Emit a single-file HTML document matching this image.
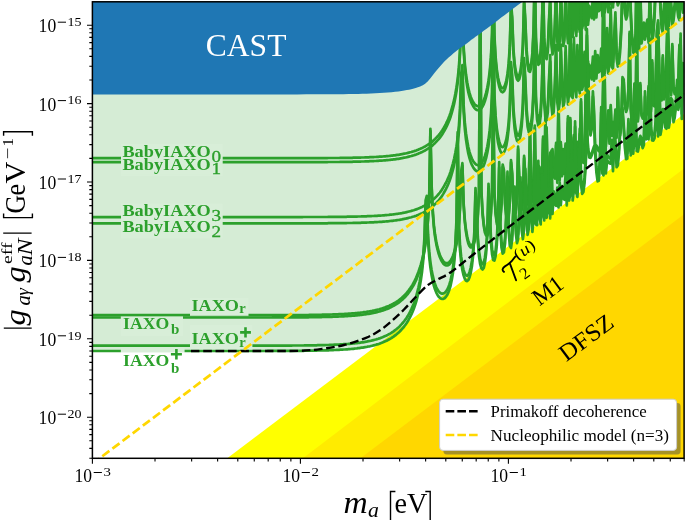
<!DOCTYPE html>
<html><head><meta charset="utf-8"><title>plot</title>
<style>html,body{margin:0;padding:0;background:#fff;}svg{display:block;will-change:transform;}text{font-family:"Liberation Serif",serif;}</style>
</head><body>
<svg width="685" height="520" viewBox="0 0 685 520">
<defs>
<clipPath id="ax"><rect x="92.4" y="1.8" width="591.7" height="456.5"/></clipPath>
</defs>
<rect x="0" y="0" width="685" height="520" fill="#ffffff"/>
<g clip-path="url(#ax)">
<polygon points="217.2,465.8 700.0,101.9 700.0,468.3" fill="#ffff00"/>
<polygon points="292.8,465.9 700.0,156.4 700.0,468.3" fill="#ffeb00"/>
<polygon points="350.4,465.8 700.0,202.3 700.0,468.3" fill="#ffd700"/>
<path d="M92.4 351.0L93.6 351.0L94.8 351.0L96.0 351.0L97.1 351.0L98.3 351.0L99.5 351.0L100.7 351.0L101.9 351.0L103.1 351.0L104.3 351.0L105.4 351.0L106.6 351.0L107.8 351.0L109.0 351.0L110.2 351.0L111.4 351.0L112.6 351.0L113.7 351.0L114.9 351.0L116.1 351.0L117.3 351.0L118.5 351.0L119.7 351.0L120.9 351.0L122.0 351.0L123.2 351.0L124.4 351.0L125.6 351.0L126.8 351.0L128.0 351.0L129.2 351.0L130.3 351.0L131.5 351.0L132.7 351.0L133.9 351.0L135.1 351.0L136.3 351.0L137.5 351.0L138.7 351.0L139.8 351.0L141.0 351.0L142.2 351.0L143.4 351.0L144.6 351.0L145.8 351.0L147.0 351.0L148.1 351.0L149.3 351.0L150.5 351.0L151.7 351.0L152.9 351.0L154.1 351.0L155.3 351.0L156.4 351.0L157.6 351.0L158.8 351.0L160.0 351.0L161.2 351.0L162.4 351.0L163.6 351.0L164.7 351.0L165.9 351.0L167.1 351.0L168.3 351.0L169.5 351.0L170.7 351.0L171.9 351.0L173.0 351.0L174.2 351.0L175.4 351.0L176.6 351.0L177.8 351.0L179.0 351.0L180.2 351.0L181.3 351.0L182.5 351.0L183.7 351.0L184.9 351.0L186.1 351.0L187.3 351.0L188.5 351.0L189.6 351.0L190.8 351.0L192.0 351.0L193.2 351.0L194.4 351.0L195.6 351.0L196.8 351.0L197.9 351.0L199.1 351.0L200.3 351.0L201.5 351.0L202.7 351.0L203.9 351.0L205.1 351.0L206.2 351.0L207.4 351.0L208.6 351.0L209.8 351.0L211.0 351.0L212.2 351.0L213.4 351.0L214.6 351.0L215.7 351.0L216.9 351.0L218.1 351.0L219.3 351.0L220.5 351.0L221.7 351.0L222.9 351.0L224.0 351.0L225.2 351.0L226.4 351.0L227.6 351.0L228.8 351.0L230.0 351.0L231.2 351.0L232.3 351.0L233.5 351.0L234.7 351.0L235.9 351.0L237.1 351.0L238.3 351.0L239.5 351.0L240.6 351.0L241.8 351.0L243.0 351.0L244.2 351.0L245.4 351.0L246.6 351.0L247.8 351.0L248.9 351.0L250.1 351.0L251.3 351.0L252.5 351.0L253.7 351.0L254.9 351.0L256.1 351.0L257.2 351.0L258.4 351.0L259.6 351.0L260.8 351.0L262.0 351.0L263.2 351.0L264.4 351.0L265.5 351.0L266.7 351.0L267.9 350.9L269.1 350.9L270.3 350.9L271.5 350.9L272.7 350.9L273.8 350.9L275.0 350.9L276.2 350.9L277.4 350.9L278.6 350.9L279.8 350.9L281.0 350.9L282.1 350.9L283.3 350.9L284.5 350.9L285.7 350.9L286.9 350.9L288.1 350.9L289.3 350.9L290.5 350.9L291.6 350.9L292.8 350.8L294.0 350.8L295.2 350.8L296.4 350.8L297.6 350.8L298.8 350.8L299.9 350.8L301.1 350.8L302.3 350.8L303.5 350.8L304.7 350.7L305.9 350.7L307.1 350.7L308.2 350.7L309.4 350.7L310.6 350.7L311.8 350.6L313.0 350.6L314.2 350.6L315.4 350.6L316.5 350.6L317.7 350.5L318.9 350.5L320.1 350.5L321.3 350.5L322.5 350.4L323.7 350.4L324.8 350.4L326.0 350.3L327.2 350.3L328.4 350.3L329.6 350.2L330.8 350.2L332.0 350.1L333.1 350.1L334.3 350.0L335.5 350.0L336.7 349.9L337.9 349.9L339.1 349.8L340.3 349.7L341.4 349.7L342.6 349.6L343.8 349.5L345.0 349.5L346.2 349.4L347.4 349.3L348.6 349.2L349.7 349.1L350.9 349.0L352.1 348.9L353.3 348.8L354.5 348.6L355.7 348.5L356.9 348.4L358.0 348.2L359.2 348.1L360.4 347.9L361.6 347.7L362.8 347.6L364.0 347.4L365.2 347.2L366.4 347.0L367.5 346.7L368.7 346.5L369.9 346.3L371.1 346.0L372.3 345.7L373.5 345.4L374.7 345.1L375.8 344.8L377.0 344.4L378.2 344.1L379.4 343.7L380.6 343.2L381.8 342.8L383.0 342.3L384.1 341.8L385.3 341.3L386.5 340.8L387.7 340.2L388.9 339.5L390.1 338.9L391.3 338.2L392.4 337.4L393.6 336.6L394.8 335.7L396.0 334.8L397.2 333.8L398.4 332.8L399.6 331.7L400.7 330.5L401.9 329.2L403.1 327.8L404.3 326.3L405.5 324.7L406.7 323.0L407.9 321.1L409.0 319.1L410.2 316.8L411.4 314.4L412.6 311.7L413.8 308.7L415.0 305.4L416.2 301.7L417.3 297.4L418.5 292.5L419.7 286.8L420.9 279.8L422.1 271.2L423.3 259.6L424.5 242.1L425.6 205.6L426.8 201.2L428.0 239.5L429.2 256.5L430.4 267.4L431.6 275.2L432.8 281.2L433.9 285.9L435.1 289.6L436.3 292.6L437.5 294.9L438.7 296.7L439.9 297.9L441.1 298.7L442.3 299.0L443.4 298.8L444.6 298.2L445.8 297.0L447.0 295.3L448.2 292.9L449.4 289.7L450.6 285.6L451.7 280.2L452.9 273.2L454.1 263.7L455.3 249.7L456.5 224.8L457.7 137.3L458.9 228.8L460.0 250.2L461.2 262.3L462.4 270.2L463.6 275.4L464.8 278.8L466.0 280.7L467.2 281.1L468.3 280.1L469.5 277.5L470.7 273.1L471.9 266.3L473.1 255.7L474.3 237.8L475.5 193.4L476.6 210.9L477.8 242.0L479.0 256.2L480.2 264.2L481.4 268.3L482.6 269.5L483.8 267.9L484.9 263.0L486.1 253.7L487.3 236.2L488.5 189.1L489.7 213.0L490.9 242.0L492.1 254.5L493.2 260.0L494.4 260.6L495.6 256.2L496.8 245.3L498.0 220.3L499.2 167.5L500.4 230.6L501.5 247.6L502.7 253.7L503.9 252.4L505.1 243.0L506.3 217.7L507.5 177.0L508.7 231.4L509.8 245.7L511.0 248.0L512.2 239.6L513.4 211.4L514.6 191.9L515.8 233.2L517.0 243.2L518.1 239.1L519.3 215.2L520.5 182.7L521.7 230.5L522.9 239.2L524.1 229.6L525.3 174.1L526.5 216.6L527.6 234.8L528.8 228.7L530.0 176.1L531.2 215.7L532.4 231.9L533.6 218.7L534.8 161.4L535.9 224.6L537.1 225.2L538.3 166.2L539.5 216.4L540.7 224.4L541.9 174.7L543.1 214.2L544.2 220.5L545.4 116.5L546.6 217.8L547.8 209.7L549.0 188.6L550.2 218.4L551.4 156.0L552.5 214.0L553.7 196.7L554.9 203.8L556.1 205.8L557.3 192.9L558.5 207.3L559.7 187.7L560.8 205.1L562.0 191.4L563.2 198.4L564.4 199.7L565.6 179.2L566.8 205.4L568.0 127.7L569.1 200.6L570.3 194.1L571.5 155.0L572.7 200.5L573.9 190.4L575.1 126.7L576.3 193.2L577.4 196.9L578.6 174.6L579.8 134.0L581.0 184.1L582.2 193.8L583.4 192.0L584.6 182.5L585.7 165.0L586.9 133.2L588.1 66.6L589.3 126.6L590.5 135.4L591.7 129.6L592.9 96.6L594.0 115.5L595.2 153.9L596.4 172.3L597.6 181.3L598.8 180.7L600.0 163.2L601.2 112.4L602.4 173.6L603.5 175.3L604.7 81.4L605.9 173.4L607.1 159.9L608.3 162.1L609.5 163.4L610.7 163.6L611.8 145.1L613.0 171.1L614.2 139.2L615.4 145.1L616.6 167.2L617.8 165.5L619.0 153.1L620.1 134.1L621.3 115.0L622.5 112.9L623.7 129.7L624.9 147.8L626.1 159.2L627.3 158.6L628.4 124.5L629.6 143.6L630.8 155.3L632.0 112.1L633.2 153.7L634.4 138.9L635.6 120.4L636.7 151.0L637.9 151.5L639.1 145.2L640.3 141.1L641.5 143.5L642.7 148.1L643.9 144.7L645.0 96.7L646.2 139.3L647.4 131.2L648.6 139.3L649.8 43.9L651.0 132.5L652.2 140.5L653.3 140.6L654.5 138.4L655.7 126.0L656.9 66.3L658.1 136.4L659.3 81.0L660.5 134.8L661.6 128.5L662.8 114.4L664.0 114.6L665.2 127.4L666.4 128.7L667.6 52.7L668.8 127.7L669.9 121.4L671.1 103.4L672.3 105.5L673.5 122.2L674.7 117.6L675.9 107.2L677.1 85.1L678.3 109.8L679.4 103.4L680.6 38.9L681.8 119.0L683.0 68.3L684.2 78.5L700 -20L90.4 -20Z" fill="#2ca02c" fill-opacity="0.2" stroke="none"/>
<path id="cB0" d="M92.4 158.2L93.6 158.2L94.8 158.2L96.0 158.2L97.1 158.2L98.3 158.2L99.5 158.2L100.7 158.2L101.9 158.2L103.1 158.2L104.3 158.2L105.4 158.2L106.6 158.2L107.8 158.2L109.0 158.2L110.2 158.2L111.4 158.2L112.6 158.2L113.7 158.2L114.9 158.2L116.1 158.2L117.3 158.2L118.5 158.2L119.7 158.2L120.9 158.2L122.0 158.2L123.2 158.2L124.4 158.2L125.6 158.2L126.8 158.2L128.0 158.2L129.2 158.2L130.3 158.2L131.5 158.2L132.7 158.2L133.9 158.2L135.1 158.2L136.3 158.2L137.5 158.2L138.7 158.2L139.8 158.2L141.0 158.2L142.2 158.2L143.4 158.2L144.6 158.2L145.8 158.2L147.0 158.2L148.1 158.2L149.3 158.2L150.5 158.2L151.7 158.2L152.9 158.2L154.1 158.2L155.3 158.2L156.4 158.2L157.6 158.2L158.8 158.2L160.0 158.2L161.2 158.2L162.4 158.2L163.6 158.2L164.7 158.2L165.9 158.2L167.1 158.2L168.3 158.2L169.5 158.2L170.7 158.2L171.9 158.2L173.0 158.2L174.2 158.2L175.4 158.2L176.6 158.2L177.8 158.2L179.0 158.2L180.2 158.2L181.3 158.2L182.5 158.2L183.7 158.2L184.9 158.2L186.1 158.2L187.3 158.2L188.5 158.2L189.6 158.2L190.8 158.2L192.0 158.2L193.2 158.2L194.4 158.2L195.6 158.2L196.8 158.2L197.9 158.2L199.1 158.2L200.3 158.2L201.5 158.2L202.7 158.2L203.9 158.2L205.1 158.2L206.2 158.2L207.4 158.2L208.6 158.2L209.8 158.2L211.0 158.2L212.2 158.2L213.4 158.2L214.6 158.2L215.7 158.2L216.9 158.2L218.1 158.2L219.3 158.2L220.5 158.2L221.7 158.2L222.9 158.2L224.0 158.2L225.2 158.2L226.4 158.2L227.6 158.2L228.8 158.2L230.0 158.2L231.2 158.2L232.3 158.2L233.5 158.2L234.7 158.2L235.9 158.2L237.1 158.2L238.3 158.2L239.5 158.2L240.6 158.2L241.8 158.2L243.0 158.2L244.2 158.2L245.4 158.2L246.6 158.2L247.8 158.2L248.9 158.2L250.1 158.2L251.3 158.2L252.5 158.2L253.7 158.2L254.9 158.2L256.1 158.2L257.2 158.2L258.4 158.2L259.6 158.2L260.8 158.2L262.0 158.2L263.2 158.2L264.4 158.2L265.5 158.2L266.7 158.2L267.9 158.2L269.1 158.2L270.3 158.2L271.5 158.2L272.7 158.2L273.8 158.2L275.0 158.2L276.2 158.2L277.4 158.2L278.6 158.2L279.8 158.2L281.0 158.2L282.1 158.2L283.3 158.2L284.5 158.2L285.7 158.2L286.9 158.2L288.1 158.2L289.3 158.2L290.5 158.2L291.6 158.2L292.8 158.2L294.0 158.2L295.2 158.2L296.4 158.2L297.6 158.2L298.8 158.2L299.9 158.2L301.1 158.2L302.3 158.2L303.5 158.1L304.7 158.1L305.9 158.1L307.1 158.1L308.2 158.1L309.4 158.1L310.6 158.1L311.8 158.1L313.0 158.1L314.2 158.1L315.4 158.1L316.5 158.1L317.7 158.1L318.9 158.1L320.1 158.1L321.3 158.1L322.5 158.1L323.7 158.1L324.8 158.1L326.0 158.1L327.2 158.1L328.4 158.0L329.6 158.0L330.8 158.0L332.0 158.0L333.1 158.0L334.3 158.0L335.5 158.0L336.7 158.0L337.9 158.0L339.1 158.0L340.3 157.9L341.4 157.9L342.6 157.9L343.8 157.9L345.0 157.9L346.2 157.9L347.4 157.8L348.6 157.8L349.7 157.8L350.9 157.8L352.1 157.8L353.3 157.7L354.5 157.7L355.7 157.7L356.9 157.7L358.0 157.6L359.2 157.6L360.4 157.6L361.6 157.5L362.8 157.5L364.0 157.5L365.2 157.4L366.4 157.4L367.5 157.3L368.7 157.3L369.9 157.2L371.1 157.2L372.3 157.1L373.5 157.1L374.7 157.0L375.8 157.0L377.0 156.9L378.2 156.8L379.4 156.7L380.6 156.7L381.8 156.6L383.0 156.5L384.1 156.4L385.3 156.3L386.5 156.2L387.7 156.1L388.9 156.0L390.1 155.8L391.3 155.7L392.4 155.6L393.6 155.4L394.8 155.3L396.0 155.1L397.2 154.9L398.4 154.8L399.6 154.6L400.7 154.4L401.9 154.2L403.1 153.9L404.3 153.7L405.5 153.5L406.7 153.2L407.9 152.9L409.0 152.6L410.2 152.3L411.4 152.0L412.6 151.6L413.8 151.3L415.0 150.9L416.2 150.5L417.3 150.0L418.5 149.6L419.7 149.1L420.9 148.5L422.1 148.0L423.3 147.4L424.5 146.8L425.6 146.1L426.8 145.4L428.0 144.6L429.2 143.8L430.4 143.0L431.6 142.1L432.8 141.1L433.9 140.0L435.1 138.9L436.3 137.7L437.5 136.4L438.7 135.1L439.9 133.6L441.1 132.0L442.3 130.2L443.4 128.4L444.6 126.3L445.8 124.1L447.0 121.7L448.2 119.0L449.4 116.0L450.6 112.7L451.7 109.0L452.9 104.7L454.1 99.9L455.3 94.1L456.5 87.3L457.7 78.6L458.9 67.2L460.0 50.0L461.2 14.7L462.4 6.3L463.6 46.0L464.8 63.3L466.0 74.3L467.2 82.2L468.3 88.2L469.5 92.9L470.7 96.7L471.9 99.7L473.1 102.0L474.3 103.8L475.5 105.1L476.6 105.9L477.8 106.2L479.0 106.1L480.2 105.4L481.4 104.3L482.6 102.5L483.8 100.1L484.9 97.0L486.1 92.9L487.3 87.6L488.5 80.7L489.7 71.3L490.9 57.4L492.1 33.1L493.2 -40.0L494.4 35.1L495.6 57.0L496.8 69.2L498.0 77.2L499.2 82.5L500.4 86.0L501.5 87.8L502.7 88.3L503.9 87.3L505.1 84.8L506.3 80.5L507.5 73.7L508.7 63.2L509.8 45.7L511.0 3.1L512.2 16.5L513.4 48.6L514.6 63.1L515.8 71.2L517.0 75.4L518.1 76.7L519.3 75.1L520.5 70.4L521.7 61.2L522.9 44.1L524.1 -0.9L525.3 18.8L526.5 48.7L527.6 61.4L528.8 67.1L530.0 67.8L531.2 63.6L532.4 52.9L533.6 28.6L534.8 -31.4L535.9 37.1L537.1 54.5L538.3 60.8L539.5 59.8L540.7 50.6L541.9 26.1L543.1 -20.3L544.2 37.9L545.4 52.7L546.6 55.2L547.8 47.3L549.0 20.0L550.2 -3.7L551.4 39.9L552.5 50.3L553.7 46.6L554.9 23.6L556.1 -13.8L557.3 37.1L558.5 46.4L559.7 37.4L560.8 -14.4L562.0 22.7L563.2 41.9L564.4 36.4L565.6 -12.7L566.8 21.8L568.0 39.1L569.1 26.8L570.3 -38.8L571.5 31.3L572.7 32.8L573.9 -21.2L575.1 22.7L576.3 31.9L577.4 -13.9L578.6 20.5L579.8 28.1L581.0 -40.0L582.2 24.4L583.4 18.0L584.6 -7.1L585.7 25.8L586.9 -29.8L588.1 20.6L589.3 5.8L590.5 9.6L591.7 14.1L592.9 -2.2L594.0 15.4L595.2 -7.9L596.4 13.3L597.6 -3.7L598.8 7.1L600.0 5.5L601.2 -10.2L602.4 12.2L603.5 -40.0L604.7 8.7L605.9 -0.5L607.1 -30.8L608.3 8.2L609.5 -4.4L610.7 -40.0L611.8 1.7L613.0 3.4L614.2 -22.4L615.4 -40.0L616.6 -6.5L617.8 1.4L619.0 -1.7L620.1 -13.0L621.3 -33.8L622.5 -40.0L623.7 -40.0L624.9 -40.0L626.1 -40.0L627.3 -40.0L628.4 -40.0L629.6 -40.0L630.8 -40.0L632.0 -24.2L633.2 -12.8L634.4 -11.2L635.6 -25.0L636.7 -40.0L637.9 -22.0L639.1 -15.9L640.3 -40.0L641.5 -21.7L642.7 -28.1L643.9 -36.2L645.0 -25.6L646.2 -33.9L647.4 -39.4L648.6 -22.6L649.8 -40.0L651.0 -39.7L652.2 -24.5L653.3 -29.9L654.5 -40.0L655.7 -40.0L656.9 -40.0L658.1 -40.0L659.3 -40.0L660.5 -40.0L661.6 -36.8L662.8 -32.6L664.0 -40.0L665.2 -40.0L666.4 -35.4L667.6 -40.0L668.8 -37.0L669.9 -40.0L671.1 -40.0L672.3 -39.6L673.5 -40.0L674.7 -40.0L675.9 -40.0L677.1 -40.0L678.3 -40.0L679.4 -40.0L680.6 -40.0L681.8 -40.0L683.0 -40.0L684.2 -40.0" fill="none" stroke="#2ca02c" stroke-width="2.7" stroke-linejoin="round" stroke-linecap="butt"/>
<path id="cB1" d="M92.4 162.2L93.6 162.2L94.8 162.2L96.0 162.2L97.1 162.2L98.3 162.2L99.5 162.2L100.7 162.2L101.9 162.2L103.1 162.2L104.3 162.2L105.4 162.2L106.6 162.2L107.8 162.2L109.0 162.2L110.2 162.2L111.4 162.2L112.6 162.2L113.7 162.2L114.9 162.2L116.1 162.2L117.3 162.2L118.5 162.2L119.7 162.2L120.9 162.2L122.0 162.2L123.2 162.2L124.4 162.2L125.6 162.2L126.8 162.2L128.0 162.2L129.2 162.2L130.3 162.2L131.5 162.2L132.7 162.2L133.9 162.2L135.1 162.2L136.3 162.2L137.5 162.2L138.7 162.2L139.8 162.2L141.0 162.2L142.2 162.2L143.4 162.2L144.6 162.2L145.8 162.2L147.0 162.2L148.1 162.2L149.3 162.2L150.5 162.2L151.7 162.2L152.9 162.2L154.1 162.2L155.3 162.2L156.4 162.2L157.6 162.2L158.8 162.2L160.0 162.2L161.2 162.2L162.4 162.2L163.6 162.2L164.7 162.2L165.9 162.2L167.1 162.2L168.3 162.2L169.5 162.2L170.7 162.2L171.9 162.2L173.0 162.2L174.2 162.2L175.4 162.2L176.6 162.2L177.8 162.2L179.0 162.2L180.2 162.2L181.3 162.2L182.5 162.2L183.7 162.2L184.9 162.2L186.1 162.2L187.3 162.2L188.5 162.2L189.6 162.2L190.8 162.2L192.0 162.2L193.2 162.2L194.4 162.2L195.6 162.2L196.8 162.2L197.9 162.2L199.1 162.2L200.3 162.2L201.5 162.2L202.7 162.2L203.9 162.2L205.1 162.2L206.2 162.2L207.4 162.2L208.6 162.2L209.8 162.2L211.0 162.2L212.2 162.2L213.4 162.2L214.6 162.2L215.7 162.2L216.9 162.2L218.1 162.2L219.3 162.2L220.5 162.2L221.7 162.2L222.9 162.2L224.0 162.2L225.2 162.2L226.4 162.2L227.6 162.2L228.8 162.2L230.0 162.2L231.2 162.2L232.3 162.2L233.5 162.2L234.7 162.2L235.9 162.2L237.1 162.2L238.3 162.2L239.5 162.2L240.6 162.2L241.8 162.2L243.0 162.2L244.2 162.2L245.4 162.2L246.6 162.2L247.8 162.2L248.9 162.2L250.1 162.2L251.3 162.2L252.5 162.2L253.7 162.2L254.9 162.2L256.1 162.2L257.2 162.2L258.4 162.2L259.6 162.2L260.8 162.2L262.0 162.2L263.2 162.2L264.4 162.2L265.5 162.2L266.7 162.2L267.9 162.2L269.1 162.2L270.3 162.2L271.5 162.2L272.7 162.2L273.8 162.2L275.0 162.2L276.2 162.2L277.4 162.2L278.6 162.2L279.8 162.2L281.0 162.2L282.1 162.2L283.3 162.2L284.5 162.2L285.7 162.2L286.9 162.2L288.1 162.2L289.3 162.2L290.5 162.2L291.6 162.2L292.8 162.2L294.0 162.2L295.2 162.2L296.4 162.2L297.6 162.2L298.8 162.2L299.9 162.2L301.1 162.2L302.3 162.2L303.5 162.1L304.7 162.1L305.9 162.1L307.1 162.1L308.2 162.1L309.4 162.1L310.6 162.1L311.8 162.1L313.0 162.1L314.2 162.1L315.4 162.1L316.5 162.1L317.7 162.1L318.9 162.1L320.1 162.1L321.3 162.1L322.5 162.1L323.7 162.1L324.8 162.1L326.0 162.1L327.2 162.1L328.4 162.0L329.6 162.0L330.8 162.0L332.0 162.0L333.1 162.0L334.3 162.0L335.5 162.0L336.7 162.0L337.9 162.0L339.1 162.0L340.3 161.9L341.4 161.9L342.6 161.9L343.8 161.9L345.0 161.9L346.2 161.9L347.4 161.8L348.6 161.8L349.7 161.8L350.9 161.8L352.1 161.8L353.3 161.7L354.5 161.7L355.7 161.7L356.9 161.7L358.0 161.6L359.2 161.6L360.4 161.6L361.6 161.5L362.8 161.5L364.0 161.5L365.2 161.4L366.4 161.4L367.5 161.3L368.7 161.3L369.9 161.2L371.1 161.2L372.3 161.1L373.5 161.1L374.7 161.0L375.8 161.0L377.0 160.9L378.2 160.8L379.4 160.7L380.6 160.7L381.8 160.6L383.0 160.5L384.1 160.4L385.3 160.3L386.5 160.2L387.7 160.1L388.9 160.0L390.1 159.8L391.3 159.7L392.4 159.6L393.6 159.4L394.8 159.3L396.0 159.1L397.2 158.9L398.4 158.8L399.6 158.6L400.7 158.4L401.9 158.2L403.1 157.9L404.3 157.7L405.5 157.5L406.7 157.2L407.9 156.9L409.0 156.6L410.2 156.3L411.4 156.0L412.6 155.6L413.8 155.3L415.0 154.9L416.2 154.5L417.3 154.0L418.5 153.6L419.7 153.1L420.9 152.5L422.1 152.0L423.3 151.4L424.5 150.8L425.6 150.1L426.8 149.4L428.0 148.6L429.2 147.8L430.4 147.0L431.6 146.1L432.8 145.1L433.9 144.0L435.1 142.9L436.3 141.7L437.5 140.4L438.7 139.1L439.9 137.6L441.1 136.0L442.3 134.2L443.4 132.4L444.6 130.3L445.8 128.1L447.0 125.7L448.2 123.0L449.4 120.0L450.6 116.7L451.7 113.0L452.9 108.7L454.1 103.9L455.3 98.1L456.5 91.3L457.7 82.6L458.9 71.2L460.0 54.0L461.2 18.7L462.4 10.3L463.6 50.0L464.8 67.3L466.0 78.3L467.2 86.2L468.3 92.2L469.5 96.9L470.7 100.7L471.9 103.7L473.1 106.0L474.3 107.8L475.5 109.1L476.6 109.9L477.8 110.2L479.0 110.1L480.2 109.4L481.4 108.3L482.6 106.5L483.8 104.1L484.9 101.0L486.1 96.9L487.3 91.6L488.5 84.7L489.7 75.3L490.9 61.4L492.1 37.1L493.2 -40.0L494.4 39.1L495.6 61.0L496.8 73.2L498.0 81.2L499.2 86.5L500.4 90.0L501.5 91.8L502.7 92.3L503.9 91.3L505.1 88.8L506.3 84.5L507.5 77.7L508.7 67.2L509.8 49.7L511.0 7.1L512.2 20.5L513.4 52.6L514.6 67.1L515.8 75.2L517.0 79.4L518.1 80.7L519.3 79.1L520.5 74.4L521.7 65.2L522.9 48.1L524.1 3.1L525.3 22.8L526.5 52.7L527.6 65.4L528.8 71.1L530.0 71.8L531.2 67.6L532.4 56.9L533.6 32.6L534.8 -27.4L535.9 41.1L537.1 58.5L538.3 64.8L539.5 63.8L540.7 54.6L541.9 30.1L543.1 -16.3L544.2 41.9L545.4 56.7L546.6 59.2L547.8 51.3L549.0 24.0L550.2 0.3L551.4 43.9L552.5 54.3L553.7 50.6L554.9 27.6L556.1 -9.8L557.3 41.1L558.5 50.4L559.7 41.4L560.8 -10.4L562.0 26.7L563.2 45.9L564.4 40.4L565.6 -8.7L566.8 25.8L568.0 43.1L569.1 30.8L570.3 -34.8L571.5 35.3L572.7 36.8L573.9 -17.2L575.1 26.7L576.3 35.9L577.4 -9.9L578.6 24.5L579.8 32.1L581.0 -40.0L582.2 28.4L583.4 22.0L584.6 -3.1L585.7 29.8L586.9 -25.8L588.1 24.6L589.3 9.8L590.5 13.6L591.7 18.1L592.9 1.8L594.0 19.4L595.2 -3.9L596.4 17.3L597.6 0.3L598.8 11.1L600.0 9.5L601.2 -6.2L602.4 16.2L603.5 -40.0L604.7 12.7L605.9 3.5L607.1 -26.8L608.3 12.2L609.5 -0.4L610.7 -40.0L611.8 5.7L613.0 7.4L614.2 -18.4L615.4 -40.0L616.6 -2.5L617.8 5.4L619.0 2.3L620.1 -9.0L621.3 -29.8L622.5 -40.0L623.7 -40.0L624.9 -40.0L626.1 -40.0L627.3 -40.0L628.4 -40.0L629.6 -40.0L630.8 -40.0L632.0 -20.2L633.2 -8.8L634.4 -7.2L635.6 -21.0L636.7 -40.0L637.9 -18.0L639.1 -11.9L640.3 -40.0L641.5 -17.7L642.7 -24.1L643.9 -32.2L645.0 -21.6L646.2 -29.9L647.4 -35.4L648.6 -18.6L649.8 -40.0L651.0 -35.7L652.2 -20.5L653.3 -25.9L654.5 -40.0L655.7 -40.0L656.9 -40.0L658.1 -40.0L659.3 -40.0L660.5 -40.0L661.6 -32.8L662.8 -28.6L664.0 -40.0L665.2 -40.0L666.4 -31.4L667.6 -40.0L668.8 -33.0L669.9 -40.0L671.1 -40.0L672.3 -35.6L673.5 -40.0L674.7 -40.0L675.9 -40.0L677.1 -40.0L678.3 -40.0L679.4 -40.0L680.6 -40.0L681.8 -40.0L683.0 -40.0L684.2 -40.0" fill="none" stroke="#2ca02c" stroke-width="2.7" stroke-linejoin="round" stroke-linecap="butt"/>
<path id="cB3" d="M92.4 217.1L93.6 217.1L94.8 217.1L96.0 217.1L97.1 217.1L98.3 217.1L99.5 217.1L100.7 217.1L101.9 217.1L103.1 217.1L104.3 217.1L105.4 217.1L106.6 217.1L107.8 217.1L109.0 217.1L110.2 217.1L111.4 217.1L112.6 217.1L113.7 217.1L114.9 217.1L116.1 217.1L117.3 217.1L118.5 217.1L119.7 217.1L120.9 217.1L122.0 217.1L123.2 217.1L124.4 217.1L125.6 217.1L126.8 217.1L128.0 217.1L129.2 217.1L130.3 217.1L131.5 217.1L132.7 217.1L133.9 217.1L135.1 217.1L136.3 217.1L137.5 217.1L138.7 217.1L139.8 217.1L141.0 217.1L142.2 217.1L143.4 217.1L144.6 217.1L145.8 217.1L147.0 217.1L148.1 217.1L149.3 217.1L150.5 217.1L151.7 217.1L152.9 217.1L154.1 217.1L155.3 217.1L156.4 217.1L157.6 217.1L158.8 217.1L160.0 217.1L161.2 217.1L162.4 217.1L163.6 217.1L164.7 217.1L165.9 217.1L167.1 217.1L168.3 217.1L169.5 217.1L170.7 217.1L171.9 217.1L173.0 217.1L174.2 217.1L175.4 217.1L176.6 217.1L177.8 217.1L179.0 217.1L180.2 217.1L181.3 217.1L182.5 217.1L183.7 217.1L184.9 217.1L186.1 217.1L187.3 217.1L188.5 217.1L189.6 217.1L190.8 217.1L192.0 217.1L193.2 217.1L194.4 217.1L195.6 217.1L196.8 217.1L197.9 217.1L199.1 217.1L200.3 217.1L201.5 217.1L202.7 217.1L203.9 217.1L205.1 217.1L206.2 217.1L207.4 217.1L208.6 217.1L209.8 217.1L211.0 217.1L212.2 217.1L213.4 217.1L214.6 217.1L215.7 217.1L216.9 217.1L218.1 217.1L219.3 217.1L220.5 217.1L221.7 217.1L222.9 217.1L224.0 217.1L225.2 217.1L226.4 217.1L227.6 217.1L228.8 217.1L230.0 217.1L231.2 217.1L232.3 217.1L233.5 217.1L234.7 217.1L235.9 217.1L237.1 217.1L238.3 217.1L239.5 217.1L240.6 217.1L241.8 217.1L243.0 217.1L244.2 217.1L245.4 217.1L246.6 217.1L247.8 217.1L248.9 217.1L250.1 217.1L251.3 217.1L252.5 217.1L253.7 217.1L254.9 217.1L256.1 217.1L257.2 217.1L258.4 217.1L259.6 217.1L260.8 217.1L262.0 217.1L263.2 217.1L264.4 217.1L265.5 217.1L266.7 217.1L267.9 217.1L269.1 217.1L270.3 217.1L271.5 217.1L272.7 217.1L273.8 217.1L275.0 217.1L276.2 217.1L277.4 217.1L278.6 217.1L279.8 217.1L281.0 217.1L282.1 217.1L283.3 217.1L284.5 217.1L285.7 217.1L286.9 217.1L288.1 217.1L289.3 217.1L290.5 217.1L291.6 217.1L292.8 217.1L294.0 217.1L295.2 217.1L296.4 217.1L297.6 217.1L298.8 217.1L299.9 217.1L301.1 217.1L302.3 217.1L303.5 217.0L304.7 217.0L305.9 217.0L307.1 217.0L308.2 217.0L309.4 217.0L310.6 217.0L311.8 217.0L313.0 217.0L314.2 217.0L315.4 217.0L316.5 217.0L317.7 217.0L318.9 217.0L320.1 217.0L321.3 217.0L322.5 217.0L323.7 217.0L324.8 217.0L326.0 217.0L327.2 217.0L328.4 216.9L329.6 216.9L330.8 216.9L332.0 216.9L333.1 216.9L334.3 216.9L335.5 216.9L336.7 216.9L337.9 216.9L339.1 216.9L340.3 216.8L341.4 216.8L342.6 216.8L343.8 216.8L345.0 216.8L346.2 216.8L347.4 216.7L348.6 216.7L349.7 216.7L350.9 216.7L352.1 216.7L353.3 216.6L354.5 216.6L355.7 216.6L356.9 216.6L358.0 216.5L359.2 216.5L360.4 216.5L361.6 216.4L362.8 216.4L364.0 216.4L365.2 216.3L366.4 216.3L367.5 216.2L368.7 216.2L369.9 216.1L371.1 216.1L372.3 216.0L373.5 216.0L374.7 215.9L375.8 215.9L377.0 215.8L378.2 215.7L379.4 215.6L380.6 215.6L381.8 215.5L383.0 215.4L384.1 215.3L385.3 215.2L386.5 215.1L387.7 215.0L388.9 214.9L390.1 214.7L391.3 214.6L392.4 214.5L393.6 214.3L394.8 214.2L396.0 214.0L397.2 213.8L398.4 213.7L399.6 213.5L400.7 213.3L401.9 213.1L403.1 212.8L404.3 212.6L405.5 212.4L406.7 212.1L407.9 211.8L409.0 211.5L410.2 211.2L411.4 210.9L412.6 210.5L413.8 210.2L415.0 209.8L416.2 209.4L417.3 208.9L418.5 208.5L419.7 208.0L420.9 207.4L422.1 206.9L423.3 206.3L424.5 205.7L425.6 205.0L426.8 204.3L428.0 203.5L429.2 202.7L430.4 201.9L431.6 201.0L432.8 200.0L433.9 198.9L435.1 197.8L436.3 196.6L437.5 195.3L438.7 194.0L439.9 192.5L441.1 190.9L442.3 189.1L443.4 187.3L444.6 185.2L445.8 183.0L447.0 180.6L448.2 177.9L449.4 174.9L450.6 171.6L451.7 167.9L452.9 163.6L454.1 158.8L455.3 153.0L456.5 146.2L457.7 137.5L458.9 126.1L460.0 108.9L461.2 73.6L462.4 65.2L463.6 104.9L464.8 122.2L466.0 133.2L467.2 141.1L468.3 147.1L469.5 151.8L470.7 155.6L471.9 158.6L473.1 160.9L474.3 162.7L475.5 164.0L476.6 164.8L477.8 165.1L479.0 165.0L480.2 164.3L481.4 163.2L482.6 161.4L483.8 159.0L484.9 155.9L486.1 151.8L487.3 146.5L488.5 139.6L489.7 130.2L490.9 116.3L492.1 92.0L493.2 -13.9L494.4 94.0L495.6 115.9L496.8 128.1L498.0 136.1L499.2 141.4L500.4 144.9L501.5 146.7L502.7 147.2L503.9 146.2L505.1 143.7L506.3 139.4L507.5 132.6L508.7 122.1L509.8 104.6L511.0 62.0L512.2 75.4L513.4 107.5L514.6 122.0L515.8 130.1L517.0 134.3L518.1 135.6L519.3 134.0L520.5 129.3L521.7 120.1L522.9 103.0L524.1 58.0L525.3 77.7L526.5 107.6L527.6 120.3L528.8 126.0L530.0 126.7L531.2 122.5L532.4 111.8L533.6 87.5L534.8 27.5L535.9 96.0L537.1 113.4L538.3 119.7L539.5 118.7L540.7 109.5L541.9 85.0L543.1 38.6L544.2 96.8L545.4 111.6L546.6 114.1L547.8 106.2L549.0 78.9L550.2 55.2L551.4 98.8L552.5 109.2L553.7 105.5L554.9 82.5L556.1 45.1L557.3 96.0L558.5 105.3L559.7 96.3L560.8 44.5L562.0 81.6L563.2 100.8L564.4 95.3L565.6 46.2L566.8 80.7L568.0 98.0L569.1 85.7L570.3 20.1L571.5 90.2L572.7 91.7L573.9 37.7L575.1 81.6L576.3 90.8L577.4 45.0L578.6 79.4L579.8 87.0L581.0 1.4L582.2 83.3L583.4 76.9L584.6 51.8L585.7 84.7L586.9 29.1L588.1 79.5L589.3 64.7L590.5 68.5L591.7 73.0L592.9 56.7L594.0 74.3L595.2 51.0L596.4 72.2L597.6 55.2L598.8 66.0L600.0 64.4L601.2 48.7L602.4 71.1L603.5 -31.7L604.7 67.6L605.9 58.4L607.1 28.1L608.3 67.1L609.5 54.5L610.7 7.5L611.8 60.6L613.0 62.3L614.2 36.5L615.4 12.3L616.6 52.4L617.8 60.3L619.0 57.2L620.1 45.9L621.3 25.1L622.5 -20.8L623.7 -18.6L624.9 7.3L626.1 13.2L627.3 9.3L628.4 -8.8L629.6 -40.0L630.8 11.1L632.0 34.7L633.2 46.1L634.4 47.7L635.6 33.9L636.7 -40.0L637.9 36.9L639.1 43.0L640.3 -14.5L641.5 37.2L642.7 30.8L643.9 22.7L645.0 33.3L646.2 25.0L647.4 19.5L648.6 36.3L649.8 -9.6L651.0 19.2L652.2 34.4L653.3 29.0L654.5 11.6L655.7 -18.2L656.9 -40.0L658.1 -40.0L659.3 -26.4L660.5 4.7L661.6 22.1L662.8 26.3L664.0 4.9L665.2 -1.2L666.4 23.5L667.6 -40.0L668.8 21.9L669.9 -8.3L671.1 2.0L672.3 19.3L673.5 14.4L674.7 3.3L675.9 -3.4L677.1 1.1L678.3 10.7L679.4 13.8L680.6 -10.0L681.8 -4.9L683.0 6.3L684.2 -4.0" fill="none" stroke="#2ca02c" stroke-width="2.7" stroke-linejoin="round" stroke-linecap="butt"/>
<path id="cB2" d="M92.4 223.4L93.6 223.4L94.8 223.4L96.0 223.4L97.1 223.4L98.3 223.4L99.5 223.4L100.7 223.4L101.9 223.4L103.1 223.4L104.3 223.4L105.4 223.4L106.6 223.4L107.8 223.4L109.0 223.4L110.2 223.4L111.4 223.4L112.6 223.4L113.7 223.4L114.9 223.4L116.1 223.4L117.3 223.4L118.5 223.4L119.7 223.4L120.9 223.4L122.0 223.4L123.2 223.4L124.4 223.4L125.6 223.4L126.8 223.4L128.0 223.4L129.2 223.4L130.3 223.4L131.5 223.4L132.7 223.4L133.9 223.4L135.1 223.4L136.3 223.4L137.5 223.4L138.7 223.4L139.8 223.4L141.0 223.4L142.2 223.4L143.4 223.4L144.6 223.4L145.8 223.4L147.0 223.4L148.1 223.4L149.3 223.4L150.5 223.4L151.7 223.4L152.9 223.4L154.1 223.4L155.3 223.4L156.4 223.4L157.6 223.4L158.8 223.4L160.0 223.4L161.2 223.4L162.4 223.4L163.6 223.4L164.7 223.4L165.9 223.4L167.1 223.4L168.3 223.4L169.5 223.4L170.7 223.4L171.9 223.4L173.0 223.4L174.2 223.4L175.4 223.4L176.6 223.4L177.8 223.4L179.0 223.4L180.2 223.4L181.3 223.4L182.5 223.4L183.7 223.4L184.9 223.4L186.1 223.4L187.3 223.4L188.5 223.4L189.6 223.4L190.8 223.4L192.0 223.4L193.2 223.4L194.4 223.4L195.6 223.4L196.8 223.4L197.9 223.4L199.1 223.4L200.3 223.4L201.5 223.4L202.7 223.4L203.9 223.4L205.1 223.4L206.2 223.4L207.4 223.4L208.6 223.4L209.8 223.4L211.0 223.4L212.2 223.4L213.4 223.4L214.6 223.4L215.7 223.4L216.9 223.4L218.1 223.4L219.3 223.4L220.5 223.4L221.7 223.4L222.9 223.4L224.0 223.4L225.2 223.4L226.4 223.4L227.6 223.4L228.8 223.4L230.0 223.4L231.2 223.4L232.3 223.4L233.5 223.4L234.7 223.4L235.9 223.4L237.1 223.4L238.3 223.4L239.5 223.4L240.6 223.4L241.8 223.4L243.0 223.4L244.2 223.4L245.4 223.4L246.6 223.4L247.8 223.4L248.9 223.4L250.1 223.4L251.3 223.4L252.5 223.4L253.7 223.4L254.9 223.4L256.1 223.4L257.2 223.4L258.4 223.4L259.6 223.4L260.8 223.4L262.0 223.4L263.2 223.4L264.4 223.4L265.5 223.4L266.7 223.4L267.9 223.4L269.1 223.4L270.3 223.4L271.5 223.4L272.7 223.4L273.8 223.4L275.0 223.4L276.2 223.4L277.4 223.4L278.6 223.4L279.8 223.4L281.0 223.4L282.1 223.4L283.3 223.4L284.5 223.4L285.7 223.4L286.9 223.4L288.1 223.4L289.3 223.4L290.5 223.4L291.6 223.4L292.8 223.4L294.0 223.4L295.2 223.4L296.4 223.4L297.6 223.4L298.8 223.4L299.9 223.4L301.1 223.4L302.3 223.4L303.5 223.3L304.7 223.3L305.9 223.3L307.1 223.3L308.2 223.3L309.4 223.3L310.6 223.3L311.8 223.3L313.0 223.3L314.2 223.3L315.4 223.3L316.5 223.3L317.7 223.3L318.9 223.3L320.1 223.3L321.3 223.3L322.5 223.3L323.7 223.3L324.8 223.3L326.0 223.3L327.2 223.3L328.4 223.2L329.6 223.2L330.8 223.2L332.0 223.2L333.1 223.2L334.3 223.2L335.5 223.2L336.7 223.2L337.9 223.2L339.1 223.2L340.3 223.1L341.4 223.1L342.6 223.1L343.8 223.1L345.0 223.1L346.2 223.1L347.4 223.0L348.6 223.0L349.7 223.0L350.9 223.0L352.1 223.0L353.3 222.9L354.5 222.9L355.7 222.9L356.9 222.9L358.0 222.8L359.2 222.8L360.4 222.8L361.6 222.7L362.8 222.7L364.0 222.7L365.2 222.6L366.4 222.6L367.5 222.5L368.7 222.5L369.9 222.4L371.1 222.4L372.3 222.3L373.5 222.3L374.7 222.2L375.8 222.2L377.0 222.1L378.2 222.0L379.4 221.9L380.6 221.9L381.8 221.8L383.0 221.7L384.1 221.6L385.3 221.5L386.5 221.4L387.7 221.3L388.9 221.2L390.1 221.0L391.3 220.9L392.4 220.8L393.6 220.6L394.8 220.5L396.0 220.3L397.2 220.1L398.4 220.0L399.6 219.8L400.7 219.6L401.9 219.4L403.1 219.1L404.3 218.9L405.5 218.7L406.7 218.4L407.9 218.1L409.0 217.8L410.2 217.5L411.4 217.2L412.6 216.8L413.8 216.5L415.0 216.1L416.2 215.7L417.3 215.2L418.5 214.8L419.7 214.3L420.9 213.7L422.1 213.2L423.3 212.6L424.5 212.0L425.6 211.3L426.8 210.6L428.0 209.8L429.2 209.0L430.4 208.2L431.6 207.3L432.8 206.3L433.9 205.2L435.1 204.1L436.3 202.9L437.5 201.6L438.7 200.3L439.9 198.8L441.1 197.2L442.3 195.4L443.4 193.6L444.6 191.5L445.8 189.3L447.0 186.9L448.2 184.2L449.4 181.2L450.6 177.9L451.7 174.2L452.9 169.9L454.1 165.1L455.3 159.3L456.5 152.5L457.7 143.8L458.9 132.4L460.0 115.2L461.2 79.9L462.4 71.5L463.6 111.2L464.8 128.5L466.0 139.5L467.2 147.4L468.3 153.4L469.5 158.1L470.7 161.9L471.9 164.9L473.1 167.2L474.3 169.0L475.5 170.3L476.6 171.1L477.8 171.4L479.0 171.3L480.2 170.6L481.4 169.5L482.6 167.7L483.8 165.3L484.9 162.2L486.1 158.1L487.3 152.8L488.5 145.9L489.7 136.5L490.9 122.6L492.1 98.3L493.2 -7.6L494.4 100.3L495.6 122.2L496.8 134.4L498.0 142.4L499.2 147.7L500.4 151.2L501.5 153.0L502.7 153.5L503.9 152.5L505.1 150.0L506.3 145.7L507.5 138.9L508.7 128.4L509.8 110.9L511.0 68.3L512.2 81.7L513.4 113.8L514.6 128.3L515.8 136.4L517.0 140.6L518.1 141.9L519.3 140.3L520.5 135.6L521.7 126.4L522.9 109.3L524.1 64.3L525.3 84.0L526.5 113.9L527.6 126.6L528.8 132.3L530.0 133.0L531.2 128.8L532.4 118.1L533.6 93.8L534.8 33.8L535.9 102.3L537.1 119.7L538.3 126.0L539.5 125.0L540.7 115.8L541.9 91.3L543.1 44.9L544.2 103.1L545.4 117.9L546.6 120.4L547.8 112.5L549.0 85.2L550.2 61.5L551.4 105.1L552.5 115.5L553.7 111.8L554.9 88.8L556.1 51.4L557.3 102.3L558.5 111.6L559.7 102.6L560.8 50.8L562.0 87.9L563.2 107.1L564.4 101.6L565.6 52.5L566.8 87.0L568.0 104.3L569.1 92.0L570.3 26.4L571.5 96.5L572.7 98.0L573.9 44.0L575.1 87.9L576.3 97.1L577.4 51.3L578.6 85.7L579.8 93.3L581.0 7.7L582.2 89.6L583.4 83.2L584.6 58.1L585.7 91.0L586.9 35.4L588.1 85.8L589.3 71.0L590.5 74.8L591.7 79.3L592.9 63.0L594.0 80.6L595.2 57.3L596.4 78.5L597.6 61.5L598.8 72.3L600.0 70.7L601.2 55.0L602.4 77.4L603.5 -25.4L604.7 73.9L605.9 64.7L607.1 34.4L608.3 73.4L609.5 60.8L610.7 13.8L611.8 66.9L613.0 68.6L614.2 42.8L615.4 18.6L616.6 58.7L617.8 66.6L619.0 63.5L620.1 52.2L621.3 31.4L622.5 -14.5L623.7 -12.3L624.9 13.6L626.1 19.5L627.3 15.6L628.4 -2.5L629.6 -40.0L630.8 17.4L632.0 41.0L633.2 52.4L634.4 54.0L635.6 40.2L636.7 -40.0L637.9 43.2L639.1 49.3L640.3 -8.2L641.5 43.5L642.7 37.1L643.9 29.0L645.0 39.6L646.2 31.3L647.4 25.8L648.6 42.6L649.8 -3.3L651.0 25.5L652.2 40.7L653.3 35.3L654.5 17.9L655.7 -11.9L656.9 -40.0L658.1 -40.0L659.3 -20.1L660.5 11.0L661.6 28.4L662.8 32.6L664.0 11.2L665.2 5.1L666.4 29.8L667.6 -40.0L668.8 28.2L669.9 -2.0L671.1 8.3L672.3 25.6L673.5 20.7L674.7 9.6L675.9 2.9L677.1 7.4L678.3 17.0L679.4 20.1L680.6 -3.7L681.8 1.4L683.0 12.6L684.2 2.3" fill="none" stroke="#2ca02c" stroke-width="2.7" stroke-linejoin="round" stroke-linecap="butt"/>
<path id="cIr" d="M92.4 315.2L93.6 315.2L94.8 315.2L96.0 315.2L97.1 315.2L98.3 315.2L99.5 315.2L100.7 315.2L101.9 315.2L103.1 315.2L104.3 315.2L105.4 315.2L106.6 315.2L107.8 315.2L109.0 315.2L110.2 315.2L111.4 315.2L112.6 315.2L113.7 315.2L114.9 315.2L116.1 315.2L117.3 315.2L118.5 315.2L119.7 315.2L120.9 315.2L122.0 315.2L123.2 315.2L124.4 315.2L125.6 315.2L126.8 315.2L128.0 315.2L129.2 315.2L130.3 315.2L131.5 315.2L132.7 315.2L133.9 315.2L135.1 315.2L136.3 315.2L137.5 315.2L138.7 315.2L139.8 315.2L141.0 315.2L142.2 315.2L143.4 315.2L144.6 315.2L145.8 315.2L147.0 315.2L148.1 315.2L149.3 315.2L150.5 315.2L151.7 315.2L152.9 315.2L154.1 315.2L155.3 315.2L156.4 315.2L157.6 315.2L158.8 315.2L160.0 315.2L161.2 315.2L162.4 315.2L163.6 315.2L164.7 315.2L165.9 315.2L167.1 315.2L168.3 315.2L169.5 315.2L170.7 315.2L171.9 315.2L173.0 315.2L174.2 315.2L175.4 315.2L176.6 315.2L177.8 315.2L179.0 315.2L180.2 315.2L181.3 315.2L182.5 315.2L183.7 315.2L184.9 315.2L186.1 315.2L187.3 315.2L188.5 315.2L189.6 315.2L190.8 315.2L192.0 315.2L193.2 315.2L194.4 315.2L195.6 315.2L196.8 315.2L197.9 315.2L199.1 315.2L200.3 315.2L201.5 315.2L202.7 315.2L203.9 315.2L205.1 315.2L206.2 315.2L207.4 315.2L208.6 315.2L209.8 315.2L211.0 315.2L212.2 315.2L213.4 315.2L214.6 315.2L215.7 315.2L216.9 315.2L218.1 315.2L219.3 315.2L220.5 315.2L221.7 315.2L222.9 315.2L224.0 315.2L225.2 315.2L226.4 315.2L227.6 315.2L228.8 315.2L230.0 315.2L231.2 315.2L232.3 315.2L233.5 315.2L234.7 315.2L235.9 315.2L237.1 315.2L238.3 315.2L239.5 315.2L240.6 315.2L241.8 315.2L243.0 315.2L244.2 315.2L245.4 315.2L246.6 315.2L247.8 315.2L248.9 315.2L250.1 315.2L251.3 315.2L252.5 315.2L253.7 315.2L254.9 315.2L256.1 315.2L257.2 315.2L258.4 315.2L259.6 315.2L260.8 315.2L262.0 315.2L263.2 315.2L264.4 315.2L265.5 315.2L266.7 315.2L267.9 315.2L269.1 315.2L270.3 315.2L271.5 315.2L272.7 315.1L273.8 315.1L275.0 315.1L276.2 315.1L277.4 315.1L278.6 315.1L279.8 315.1L281.0 315.1L282.1 315.1L283.3 315.1L284.5 315.1L285.7 315.1L286.9 315.1L288.1 315.1L289.3 315.1L290.5 315.1L291.6 315.1L292.8 315.1L294.0 315.1L295.2 315.1L296.4 315.1L297.6 315.0L298.8 315.0L299.9 315.0L301.1 315.0L302.3 315.0L303.5 315.0L304.7 315.0L305.9 315.0L307.1 315.0L308.2 315.0L309.4 314.9L310.6 314.9L311.8 314.9L313.0 314.9L314.2 314.9L315.4 314.9L316.5 314.8L317.7 314.8L318.9 314.8L320.1 314.8L321.3 314.8L322.5 314.7L323.7 314.7L324.8 314.7L326.0 314.7L327.2 314.6L328.4 314.6L329.6 314.6L330.8 314.5L332.0 314.5L333.1 314.4L334.3 314.4L335.5 314.4L336.7 314.3L337.9 314.3L339.1 314.2L340.3 314.2L341.4 314.1L342.6 314.1L343.8 314.0L345.0 313.9L346.2 313.9L347.4 313.8L348.6 313.7L349.7 313.6L350.9 313.5L352.1 313.4L353.3 313.4L354.5 313.3L355.7 313.1L356.9 313.0L358.0 312.9L359.2 312.8L360.4 312.7L361.6 312.5L362.8 312.4L364.0 312.2L365.2 312.0L366.4 311.9L367.5 311.7L368.7 311.5L369.9 311.3L371.1 311.1L372.3 310.9L373.5 310.6L374.7 310.4L375.8 310.1L377.0 309.8L378.2 309.5L379.4 309.2L380.6 308.8L381.8 308.5L383.0 308.1L384.1 307.7L385.3 307.3L386.5 306.8L387.7 306.4L388.9 305.9L390.1 305.3L391.3 304.7L392.4 304.1L393.6 303.5L394.8 302.8L396.0 302.1L397.2 301.3L398.4 300.5L399.6 299.6L400.7 298.7L401.9 297.7L403.1 296.6L404.3 295.4L405.5 294.2L406.7 292.9L407.9 291.5L409.0 289.9L410.2 288.3L411.4 286.5L412.6 284.6L413.8 282.5L415.0 280.1L416.2 277.6L417.3 274.8L418.5 271.7L419.7 268.3L420.9 264.3L422.1 259.9L423.3 254.7L424.5 248.6L425.6 241.1L426.8 231.5L428.0 218.3L429.2 196.8L430.4 128.8L431.6 185.0L432.8 211.1L433.9 225.2L435.1 234.8L436.3 241.8L437.5 247.2L438.7 251.5L439.9 255.0L441.1 257.7L442.3 259.8L443.4 261.4L444.6 262.5L445.8 263.1L447.0 263.2L448.2 262.9L449.4 262.0L450.6 260.6L451.7 258.7L452.9 256.0L454.1 252.5L455.3 247.9L456.5 242.1L457.7 234.3L458.9 223.4L460.0 206.7L461.2 171.6L462.4 163.2L463.6 202.8L464.8 219.6L466.0 229.8L467.2 236.6L468.3 241.1L469.5 243.9L470.7 245.2L471.9 245.1L473.1 243.5L474.3 240.3L475.5 235.1L476.6 227.1L477.8 214.4L479.0 191.4L480.2 -40.0L481.4 190.5L482.6 212.5L483.8 223.9L484.9 230.3L486.1 233.3L487.3 233.4L488.5 230.7L489.7 224.4L490.9 212.7L492.1 189.6L493.2 84.2L494.4 191.5L495.6 211.9L496.8 221.4L498.0 225.0L499.2 223.8L500.4 217.3L501.5 202.7L502.7 164.5L503.9 170.0L505.1 203.0L506.3 215.0L507.5 218.2L508.7 214.3L509.8 200.7L511.0 160.0L512.2 173.1L513.4 202.8L514.6 211.9L515.8 210.5L517.0 197.0L518.1 146.7L519.3 179.2L520.5 203.0L521.7 207.5L522.9 197.7L524.1 155.9L525.3 175.0L526.5 200.2L527.6 202.1L528.8 183.6L530.0 128.4L531.2 191.3L532.4 199.4L533.6 183.5L534.8 125.6L535.9 190.0L537.1 194.8L538.3 165.7L539.5 167.2L540.7 192.7L541.9 180.4L543.1 136.5L544.2 188.3L545.4 181.3L546.6 127.3L547.8 186.1L549.0 174.5L550.2 152.7L551.4 185.2L552.5 149.2L553.7 174.5L554.9 176.3L556.1 142.8L557.3 180.5L558.5 97.3L559.7 177.9L560.8 142.1L562.0 173.9L563.2 149.1L564.4 171.6L565.6 143.6L566.8 171.7L568.0 116.3L569.1 171.8L570.3 118.0L571.5 165.8L572.7 158.1L573.9 135.1L575.1 167.3L576.3 142.3L577.4 141.9L578.6 164.5L579.8 149.2L581.0 99.4L582.2 155.2L583.4 160.7L584.6 147.4L585.7 93.0L586.9 126.5L588.1 148.6L589.3 155.2L590.5 155.6L591.7 153.1L592.9 149.6L594.0 146.5L595.2 145.1L596.4 145.5L597.6 147.3L598.8 148.8L600.0 148.2L601.2 142.1L602.4 122.3L603.5 66.3L604.7 133.7L605.9 144.0L607.1 124.6L608.3 110.4L609.5 141.3L610.7 105.1L611.8 133.7L613.0 122.0L614.2 130.7L615.4 109.5L616.6 135.5L617.8 87.5L619.0 121.6L620.1 133.3L621.3 120.5L622.5 77.1L623.7 79.3L624.9 104.4L626.1 109.7L627.3 106.0L628.4 88.9L629.6 31.8L630.8 107.5L632.0 123.8L633.2 112.5L634.4 83.6L635.6 121.6L636.7 16.6L637.9 119.1L639.1 99.7L640.3 83.0L641.5 113.4L642.7 116.3L643.9 113.7L645.0 112.4L646.2 113.4L647.4 110.7L648.6 86.0L649.8 87.3L651.0 109.1L652.2 60.4L653.3 103.2L654.5 104.0L655.7 79.0L656.9 30.5L658.1 20.4L659.3 71.0L660.5 97.9L661.6 98.1L662.8 55.3L664.0 97.1L665.2 92.8L666.4 60.1L667.6 16.9L668.8 51.5L669.9 86.5L671.1 93.0L672.3 44.0L673.5 86.7L674.7 91.8L675.9 88.5L677.1 90.0L678.3 83.3L679.4 44.9L680.6 83.1L681.8 85.5L683.0 81.4L684.2 84.7" fill="none" stroke="#2ca02c" stroke-width="2.7" stroke-linejoin="round" stroke-linecap="butt"/>
<path id="cIb" d="M92.4 317.5L93.6 317.5L94.8 317.5L96.0 317.5L97.1 317.5L98.3 317.5L99.5 317.5L100.7 317.5L101.9 317.5L103.1 317.5L104.3 317.5L105.4 317.5L106.6 317.5L107.8 317.5L109.0 317.5L110.2 317.5L111.4 317.5L112.6 317.5L113.7 317.5L114.9 317.5L116.1 317.5L117.3 317.5L118.5 317.5L119.7 317.5L120.9 317.5L122.0 317.5L123.2 317.5L124.4 317.5L125.6 317.5L126.8 317.5L128.0 317.5L129.2 317.5L130.3 317.5L131.5 317.5L132.7 317.5L133.9 317.5L135.1 317.5L136.3 317.5L137.5 317.5L138.7 317.5L139.8 317.5L141.0 317.5L142.2 317.5L143.4 317.5L144.6 317.5L145.8 317.5L147.0 317.5L148.1 317.5L149.3 317.5L150.5 317.5L151.7 317.5L152.9 317.5L154.1 317.5L155.3 317.5L156.4 317.5L157.6 317.5L158.8 317.5L160.0 317.5L161.2 317.5L162.4 317.5L163.6 317.5L164.7 317.5L165.9 317.5L167.1 317.5L168.3 317.5L169.5 317.5L170.7 317.5L171.9 317.5L173.0 317.5L174.2 317.5L175.4 317.5L176.6 317.5L177.8 317.5L179.0 317.5L180.2 317.5L181.3 317.5L182.5 317.5L183.7 317.5L184.9 317.5L186.1 317.5L187.3 317.5L188.5 317.5L189.6 317.5L190.8 317.5L192.0 317.5L193.2 317.5L194.4 317.5L195.6 317.5L196.8 317.5L197.9 317.5L199.1 317.5L200.3 317.5L201.5 317.5L202.7 317.5L203.9 317.5L205.1 317.5L206.2 317.5L207.4 317.5L208.6 317.5L209.8 317.5L211.0 317.5L212.2 317.5L213.4 317.5L214.6 317.5L215.7 317.5L216.9 317.5L218.1 317.5L219.3 317.5L220.5 317.5L221.7 317.5L222.9 317.5L224.0 317.5L225.2 317.5L226.4 317.5L227.6 317.5L228.8 317.5L230.0 317.5L231.2 317.5L232.3 317.5L233.5 317.5L234.7 317.5L235.9 317.5L237.1 317.5L238.3 317.5L239.5 317.5L240.6 317.5L241.8 317.5L243.0 317.5L244.2 317.5L245.4 317.5L246.6 317.5L247.8 317.5L248.9 317.5L250.1 317.5L251.3 317.5L252.5 317.5L253.7 317.5L254.9 317.5L256.1 317.5L257.2 317.5L258.4 317.5L259.6 317.5L260.8 317.5L262.0 317.5L263.2 317.5L264.4 317.5L265.5 317.5L266.7 317.5L267.9 317.5L269.1 317.5L270.3 317.5L271.5 317.5L272.7 317.4L273.8 317.4L275.0 317.4L276.2 317.4L277.4 317.4L278.6 317.4L279.8 317.4L281.0 317.4L282.1 317.4L283.3 317.4L284.5 317.4L285.7 317.4L286.9 317.4L288.1 317.4L289.3 317.4L290.5 317.4L291.6 317.4L292.8 317.4L294.0 317.4L295.2 317.4L296.4 317.4L297.6 317.3L298.8 317.3L299.9 317.3L301.1 317.3L302.3 317.3L303.5 317.3L304.7 317.3L305.9 317.3L307.1 317.3L308.2 317.3L309.4 317.2L310.6 317.2L311.8 317.2L313.0 317.2L314.2 317.2L315.4 317.2L316.5 317.1L317.7 317.1L318.9 317.1L320.1 317.1L321.3 317.1L322.5 317.0L323.7 317.0L324.8 317.0L326.0 317.0L327.2 316.9L328.4 316.9L329.6 316.9L330.8 316.8L332.0 316.8L333.1 316.7L334.3 316.7L335.5 316.7L336.7 316.6L337.9 316.6L339.1 316.5L340.3 316.5L341.4 316.4L342.6 316.4L343.8 316.3L345.0 316.2L346.2 316.2L347.4 316.1L348.6 316.0L349.7 315.9L350.9 315.8L352.1 315.7L353.3 315.7L354.5 315.6L355.7 315.4L356.9 315.3L358.0 315.2L359.2 315.1L360.4 315.0L361.6 314.8L362.8 314.7L364.0 314.5L365.2 314.3L366.4 314.2L367.5 314.0L368.7 313.8L369.9 313.6L371.1 313.4L372.3 313.2L373.5 312.9L374.7 312.7L375.8 312.4L377.0 312.1L378.2 311.8L379.4 311.5L380.6 311.1L381.8 310.8L383.0 310.4L384.1 310.0L385.3 309.6L386.5 309.1L387.7 308.7L388.9 308.2L390.1 307.6L391.3 307.0L392.4 306.4L393.6 305.8L394.8 305.1L396.0 304.4L397.2 303.6L398.4 302.8L399.6 301.9L400.7 301.0L401.9 300.0L403.1 298.9L404.3 297.7L405.5 296.5L406.7 295.2L407.9 293.8L409.0 292.2L410.2 290.6L411.4 288.8L412.6 286.9L413.8 284.8L415.0 282.4L416.2 279.9L417.3 277.1L418.5 274.0L419.7 270.6L420.9 266.6L422.1 262.2L423.3 257.0L424.5 250.9L425.6 243.4L426.8 233.8L428.0 220.6L429.2 199.1L430.4 131.1L431.6 187.3L432.8 213.4L433.9 227.5L435.1 237.1L436.3 244.1L437.5 249.5L438.7 253.8L439.9 257.3L441.1 260.0L442.3 262.1L443.4 263.7L444.6 264.8L445.8 265.4L447.0 265.5L448.2 265.2L449.4 264.3L450.6 262.9L451.7 261.0L452.9 258.3L454.1 254.8L455.3 250.2L456.5 244.4L457.7 236.6L458.9 225.7L460.0 209.0L461.2 173.9L462.4 165.5L463.6 205.1L464.8 221.9L466.0 232.1L467.2 238.9L468.3 243.4L469.5 246.2L470.7 247.5L471.9 247.4L473.1 245.8L474.3 242.6L475.5 237.4L476.6 229.4L477.8 216.7L479.0 193.7L480.2 -40.0L481.4 192.8L482.6 214.8L483.8 226.2L484.9 232.6L486.1 235.6L487.3 235.7L488.5 233.0L489.7 226.7L490.9 215.0L492.1 191.9L493.2 86.5L494.4 193.8L495.6 214.2L496.8 223.7L498.0 227.3L499.2 226.1L500.4 219.6L501.5 205.0L502.7 166.8L503.9 172.3L505.1 205.3L506.3 217.3L507.5 220.5L508.7 216.6L509.8 203.0L511.0 162.3L512.2 175.4L513.4 205.1L514.6 214.2L515.8 212.8L517.0 199.3L518.1 149.0L519.3 181.5L520.5 205.3L521.7 209.8L522.9 200.0L524.1 158.2L525.3 177.3L526.5 202.5L527.6 204.4L528.8 185.9L530.0 130.7L531.2 193.6L532.4 201.7L533.6 185.8L534.8 127.9L535.9 192.3L537.1 197.1L538.3 168.0L539.5 169.5L540.7 195.0L541.9 182.7L543.1 138.8L544.2 190.6L545.4 183.6L546.6 129.6L547.8 188.4L549.0 176.8L550.2 155.0L551.4 187.5L552.5 151.5L553.7 176.8L554.9 178.6L556.1 145.1L557.3 182.8L558.5 99.6L559.7 180.2L560.8 144.4L562.0 176.2L563.2 151.4L564.4 173.9L565.6 145.9L566.8 174.0L568.0 118.6L569.1 174.1L570.3 120.3L571.5 168.1L572.7 160.4L573.9 137.4L575.1 169.6L576.3 144.6L577.4 144.2L578.6 166.8L579.8 151.5L581.0 101.7L582.2 157.5L583.4 163.0L584.6 149.7L585.7 95.3L586.9 128.8L588.1 150.9L589.3 157.5L590.5 157.9L591.7 155.4L592.9 151.9L594.0 148.8L595.2 147.4L596.4 147.8L597.6 149.6L598.8 151.1L600.0 150.5L601.2 144.4L602.4 124.6L603.5 68.6L604.7 136.0L605.9 146.3L607.1 126.9L608.3 112.7L609.5 143.6L610.7 107.4L611.8 136.0L613.0 124.3L614.2 133.0L615.4 111.8L616.6 137.8L617.8 89.8L619.0 123.9L620.1 135.6L621.3 122.8L622.5 79.4L623.7 81.6L624.9 106.7L626.1 112.0L627.3 108.3L628.4 91.2L629.6 34.1L630.8 109.8L632.0 126.1L633.2 114.8L634.4 85.9L635.6 123.9L636.7 18.9L637.9 121.4L639.1 102.0L640.3 85.3L641.5 115.7L642.7 118.6L643.9 116.0L645.0 114.7L646.2 115.7L647.4 113.0L648.6 88.3L649.8 89.6L651.0 111.4L652.2 62.7L653.3 105.5L654.5 106.3L655.7 81.3L656.9 32.8L658.1 22.7L659.3 73.3L660.5 100.2L661.6 100.4L662.8 57.6L664.0 99.4L665.2 95.1L666.4 62.4L667.6 19.2L668.8 53.8L669.9 88.8L671.1 95.3L672.3 46.3L673.5 89.0L674.7 94.1L675.9 90.8L677.1 92.3L678.3 85.6L679.4 47.2L680.6 85.4L681.8 87.8L683.0 83.7L684.2 87.0" fill="none" stroke="#2ca02c" stroke-width="2.7" stroke-linejoin="round" stroke-linecap="butt"/>
<path id="cIrp" d="M92.4 345.7L93.6 345.7L94.8 345.7L96.0 345.7L97.1 345.7L98.3 345.7L99.5 345.7L100.7 345.7L101.9 345.7L103.1 345.7L104.3 345.7L105.4 345.7L106.6 345.7L107.8 345.7L109.0 345.7L110.2 345.7L111.4 345.7L112.6 345.7L113.7 345.7L114.9 345.7L116.1 345.7L117.3 345.7L118.5 345.7L119.7 345.7L120.9 345.7L122.0 345.7L123.2 345.7L124.4 345.7L125.6 345.7L126.8 345.7L128.0 345.7L129.2 345.7L130.3 345.7L131.5 345.7L132.7 345.7L133.9 345.7L135.1 345.7L136.3 345.7L137.5 345.7L138.7 345.7L139.8 345.7L141.0 345.7L142.2 345.7L143.4 345.7L144.6 345.7L145.8 345.7L147.0 345.7L148.1 345.7L149.3 345.7L150.5 345.7L151.7 345.7L152.9 345.7L154.1 345.7L155.3 345.7L156.4 345.7L157.6 345.7L158.8 345.7L160.0 345.7L161.2 345.7L162.4 345.7L163.6 345.7L164.7 345.7L165.9 345.7L167.1 345.7L168.3 345.7L169.5 345.7L170.7 345.7L171.9 345.7L173.0 345.7L174.2 345.7L175.4 345.7L176.6 345.7L177.8 345.7L179.0 345.7L180.2 345.7L181.3 345.7L182.5 345.7L183.7 345.7L184.9 345.7L186.1 345.7L187.3 345.7L188.5 345.7L189.6 345.7L190.8 345.7L192.0 345.7L193.2 345.7L194.4 345.7L195.6 345.7L196.8 345.7L197.9 345.7L199.1 345.7L200.3 345.7L201.5 345.7L202.7 345.7L203.9 345.7L205.1 345.7L206.2 345.7L207.4 345.7L208.6 345.7L209.8 345.7L211.0 345.7L212.2 345.7L213.4 345.7L214.6 345.7L215.7 345.7L216.9 345.7L218.1 345.7L219.3 345.7L220.5 345.7L221.7 345.7L222.9 345.7L224.0 345.7L225.2 345.7L226.4 345.7L227.6 345.7L228.8 345.7L230.0 345.7L231.2 345.7L232.3 345.7L233.5 345.7L234.7 345.7L235.9 345.7L237.1 345.7L238.3 345.7L239.5 345.7L240.6 345.7L241.8 345.7L243.0 345.7L244.2 345.7L245.4 345.7L246.6 345.7L247.8 345.7L248.9 345.7L250.1 345.7L251.3 345.7L252.5 345.7L253.7 345.7L254.9 345.7L256.1 345.7L257.2 345.7L258.4 345.7L259.6 345.7L260.8 345.7L262.0 345.7L263.2 345.7L264.4 345.7L265.5 345.7L266.7 345.7L267.9 345.6L269.1 345.6L270.3 345.6L271.5 345.6L272.7 345.6L273.8 345.6L275.0 345.6L276.2 345.6L277.4 345.6L278.6 345.6L279.8 345.6L281.0 345.6L282.1 345.6L283.3 345.6L284.5 345.6L285.7 345.6L286.9 345.6L288.1 345.6L289.3 345.6L290.5 345.6L291.6 345.6L292.8 345.5L294.0 345.5L295.2 345.5L296.4 345.5L297.6 345.5L298.8 345.5L299.9 345.5L301.1 345.5L302.3 345.5L303.5 345.5L304.7 345.4L305.9 345.4L307.1 345.4L308.2 345.4L309.4 345.4L310.6 345.4L311.8 345.3L313.0 345.3L314.2 345.3L315.4 345.3L316.5 345.3L317.7 345.2L318.9 345.2L320.1 345.2L321.3 345.2L322.5 345.1L323.7 345.1L324.8 345.1L326.0 345.0L327.2 345.0L328.4 345.0L329.6 344.9L330.8 344.9L332.0 344.8L333.1 344.8L334.3 344.7L335.5 344.7L336.7 344.6L337.9 344.6L339.1 344.5L340.3 344.4L341.4 344.4L342.6 344.3L343.8 344.2L345.0 344.2L346.2 344.1L347.4 344.0L348.6 343.9L349.7 343.8L350.9 343.7L352.1 343.6L353.3 343.5L354.5 343.3L355.7 343.2L356.9 343.1L358.0 342.9L359.2 342.8L360.4 342.6L361.6 342.4L362.8 342.3L364.0 342.1L365.2 341.9L366.4 341.7L367.5 341.4L368.7 341.2L369.9 341.0L371.1 340.7L372.3 340.4L373.5 340.1L374.7 339.8L375.8 339.5L377.0 339.1L378.2 338.8L379.4 338.4L380.6 337.9L381.8 337.5L383.0 337.0L384.1 336.5L385.3 336.0L386.5 335.5L387.7 334.9L388.9 334.2L390.1 333.6L391.3 332.9L392.4 332.1L393.6 331.3L394.8 330.4L396.0 329.5L397.2 328.5L398.4 327.5L399.6 326.4L400.7 325.2L401.9 323.9L403.1 322.5L404.3 321.0L405.5 319.4L406.7 317.7L407.9 315.8L409.0 313.8L410.2 311.5L411.4 309.1L412.6 306.4L413.8 303.4L415.0 300.1L416.2 296.4L417.3 292.1L418.5 287.2L419.7 281.5L420.9 274.5L422.1 265.9L423.3 254.3L424.5 236.8L425.6 200.3L426.8 195.9L428.0 234.2L429.2 251.2L430.4 262.1L431.6 269.9L432.8 275.9L433.9 280.6L435.1 284.3L436.3 287.3L437.5 289.6L438.7 291.4L439.9 292.6L441.1 293.4L442.3 293.7L443.4 293.5L444.6 292.9L445.8 291.7L447.0 290.0L448.2 287.6L449.4 284.4L450.6 280.3L451.7 274.9L452.9 267.9L454.1 258.4L455.3 244.4L456.5 219.5L457.7 132.0L458.9 223.5L460.0 244.9L461.2 257.0L462.4 264.9L463.6 270.1L464.8 273.5L466.0 275.4L467.2 275.8L468.3 274.8L469.5 272.2L470.7 267.8L471.9 261.0L473.1 250.4L474.3 232.5L475.5 188.1L476.6 205.6L477.8 236.7L479.0 250.9L480.2 258.9L481.4 263.0L482.6 264.2L483.8 262.6L484.9 257.7L486.1 248.4L487.3 230.9L488.5 183.8L489.7 207.7L490.9 236.7L492.1 249.2L493.2 254.7L494.4 255.3L495.6 250.9L496.8 240.0L498.0 215.0L499.2 162.2L500.4 225.3L501.5 242.3L502.7 248.4L503.9 247.1L505.1 237.7L506.3 212.4L507.5 171.7L508.7 226.1L509.8 240.4L511.0 242.7L512.2 234.3L513.4 206.1L514.6 186.6L515.8 227.9L517.0 237.9L518.1 233.8L519.3 209.9L520.5 177.4L521.7 225.2L522.9 233.9L524.1 224.3L525.3 168.8L526.5 211.3L527.6 229.5L528.8 223.4L530.0 170.8L531.2 210.4L532.4 226.6L533.6 213.4L534.8 156.1L535.9 219.3L537.1 219.9L538.3 160.9L539.5 211.1L540.7 219.1L541.9 169.4L543.1 208.9L544.2 215.2L545.4 111.2L546.6 212.5L547.8 204.4L549.0 183.3L550.2 213.1L551.4 150.7L552.5 208.7L553.7 191.4L554.9 198.5L556.1 200.5L557.3 187.6L558.5 202.0L559.7 182.4L560.8 199.8L562.0 186.1L563.2 193.1L564.4 194.4L565.6 173.9L566.8 200.1L568.0 122.4L569.1 195.3L570.3 188.8L571.5 149.7L572.7 195.2L573.9 185.1L575.1 121.4L576.3 187.9L577.4 191.6L578.6 169.3L579.8 128.7L581.0 178.8L582.2 188.5L583.4 186.7L584.6 177.2L585.7 159.7L586.9 127.9L588.1 61.3L589.3 121.3L590.5 130.1L591.7 124.3L592.9 91.3L594.0 110.2L595.2 148.6L596.4 167.0L597.6 176.0L598.8 175.4L600.0 157.9L601.2 107.1L602.4 168.3L603.5 170.0L604.7 76.1L605.9 168.1L607.1 154.6L608.3 156.8L609.5 158.1L610.7 158.3L611.8 139.8L613.0 165.8L614.2 133.9L615.4 139.8L616.6 161.9L617.8 160.2L619.0 147.8L620.1 128.8L621.3 109.7L622.5 107.6L623.7 124.4L624.9 142.5L626.1 153.9L627.3 153.3L628.4 119.2L629.6 138.3L630.8 150.0L632.0 106.8L633.2 148.4L634.4 133.6L635.6 115.1L636.7 145.7L637.9 146.2L639.1 139.9L640.3 135.8L641.5 138.2L642.7 142.8L643.9 139.4L645.0 91.4L646.2 134.0L647.4 125.9L648.6 134.0L649.8 38.6L651.0 127.2L652.2 135.2L653.3 135.3L654.5 133.1L655.7 120.7L656.9 61.0L658.1 131.1L659.3 75.7L660.5 129.5L661.6 123.2L662.8 109.1L664.0 109.3L665.2 122.1L666.4 123.4L667.6 47.4L668.8 122.4L669.9 116.1L671.1 98.1L672.3 100.2L673.5 116.9L674.7 112.3L675.9 101.9L677.1 79.8L678.3 104.5L679.4 98.1L680.6 33.6L681.8 113.7L683.0 63.0L684.2 73.2" fill="none" stroke="#2ca02c" stroke-width="2.7" stroke-linejoin="round" stroke-linecap="butt"/>
<path id="cIbp" d="M92.4 351.0L93.6 351.0L94.8 351.0L96.0 351.0L97.1 351.0L98.3 351.0L99.5 351.0L100.7 351.0L101.9 351.0L103.1 351.0L104.3 351.0L105.4 351.0L106.6 351.0L107.8 351.0L109.0 351.0L110.2 351.0L111.4 351.0L112.6 351.0L113.7 351.0L114.9 351.0L116.1 351.0L117.3 351.0L118.5 351.0L119.7 351.0L120.9 351.0L122.0 351.0L123.2 351.0L124.4 351.0L125.6 351.0L126.8 351.0L128.0 351.0L129.2 351.0L130.3 351.0L131.5 351.0L132.7 351.0L133.9 351.0L135.1 351.0L136.3 351.0L137.5 351.0L138.7 351.0L139.8 351.0L141.0 351.0L142.2 351.0L143.4 351.0L144.6 351.0L145.8 351.0L147.0 351.0L148.1 351.0L149.3 351.0L150.5 351.0L151.7 351.0L152.9 351.0L154.1 351.0L155.3 351.0L156.4 351.0L157.6 351.0L158.8 351.0L160.0 351.0L161.2 351.0L162.4 351.0L163.6 351.0L164.7 351.0L165.9 351.0L167.1 351.0L168.3 351.0L169.5 351.0L170.7 351.0L171.9 351.0L173.0 351.0L174.2 351.0L175.4 351.0L176.6 351.0L177.8 351.0L179.0 351.0L180.2 351.0L181.3 351.0L182.5 351.0L183.7 351.0L184.9 351.0L186.1 351.0L187.3 351.0L188.5 351.0L189.6 351.0L190.8 351.0L192.0 351.0L193.2 351.0L194.4 351.0L195.6 351.0L196.8 351.0L197.9 351.0L199.1 351.0L200.3 351.0L201.5 351.0L202.7 351.0L203.9 351.0L205.1 351.0L206.2 351.0L207.4 351.0L208.6 351.0L209.8 351.0L211.0 351.0L212.2 351.0L213.4 351.0L214.6 351.0L215.7 351.0L216.9 351.0L218.1 351.0L219.3 351.0L220.5 351.0L221.7 351.0L222.9 351.0L224.0 351.0L225.2 351.0L226.4 351.0L227.6 351.0L228.8 351.0L230.0 351.0L231.2 351.0L232.3 351.0L233.5 351.0L234.7 351.0L235.9 351.0L237.1 351.0L238.3 351.0L239.5 351.0L240.6 351.0L241.8 351.0L243.0 351.0L244.2 351.0L245.4 351.0L246.6 351.0L247.8 351.0L248.9 351.0L250.1 351.0L251.3 351.0L252.5 351.0L253.7 351.0L254.9 351.0L256.1 351.0L257.2 351.0L258.4 351.0L259.6 351.0L260.8 351.0L262.0 351.0L263.2 351.0L264.4 351.0L265.5 351.0L266.7 351.0L267.9 350.9L269.1 350.9L270.3 350.9L271.5 350.9L272.7 350.9L273.8 350.9L275.0 350.9L276.2 350.9L277.4 350.9L278.6 350.9L279.8 350.9L281.0 350.9L282.1 350.9L283.3 350.9L284.5 350.9L285.7 350.9L286.9 350.9L288.1 350.9L289.3 350.9L290.5 350.9L291.6 350.9L292.8 350.8L294.0 350.8L295.2 350.8L296.4 350.8L297.6 350.8L298.8 350.8L299.9 350.8L301.1 350.8L302.3 350.8L303.5 350.8L304.7 350.7L305.9 350.7L307.1 350.7L308.2 350.7L309.4 350.7L310.6 350.7L311.8 350.6L313.0 350.6L314.2 350.6L315.4 350.6L316.5 350.6L317.7 350.5L318.9 350.5L320.1 350.5L321.3 350.5L322.5 350.4L323.7 350.4L324.8 350.4L326.0 350.3L327.2 350.3L328.4 350.3L329.6 350.2L330.8 350.2L332.0 350.1L333.1 350.1L334.3 350.0L335.5 350.0L336.7 349.9L337.9 349.9L339.1 349.8L340.3 349.7L341.4 349.7L342.6 349.6L343.8 349.5L345.0 349.5L346.2 349.4L347.4 349.3L348.6 349.2L349.7 349.1L350.9 349.0L352.1 348.9L353.3 348.8L354.5 348.6L355.7 348.5L356.9 348.4L358.0 348.2L359.2 348.1L360.4 347.9L361.6 347.7L362.8 347.6L364.0 347.4L365.2 347.2L366.4 347.0L367.5 346.7L368.7 346.5L369.9 346.3L371.1 346.0L372.3 345.7L373.5 345.4L374.7 345.1L375.8 344.8L377.0 344.4L378.2 344.1L379.4 343.7L380.6 343.2L381.8 342.8L383.0 342.3L384.1 341.8L385.3 341.3L386.5 340.8L387.7 340.2L388.9 339.5L390.1 338.9L391.3 338.2L392.4 337.4L393.6 336.6L394.8 335.7L396.0 334.8L397.2 333.8L398.4 332.8L399.6 331.7L400.7 330.5L401.9 329.2L403.1 327.8L404.3 326.3L405.5 324.7L406.7 323.0L407.9 321.1L409.0 319.1L410.2 316.8L411.4 314.4L412.6 311.7L413.8 308.7L415.0 305.4L416.2 301.7L417.3 297.4L418.5 292.5L419.7 286.8L420.9 279.8L422.1 271.2L423.3 259.6L424.5 242.1L425.6 205.6L426.8 201.2L428.0 239.5L429.2 256.5L430.4 267.4L431.6 275.2L432.8 281.2L433.9 285.9L435.1 289.6L436.3 292.6L437.5 294.9L438.7 296.7L439.9 297.9L441.1 298.7L442.3 299.0L443.4 298.8L444.6 298.2L445.8 297.0L447.0 295.3L448.2 292.9L449.4 289.7L450.6 285.6L451.7 280.2L452.9 273.2L454.1 263.7L455.3 249.7L456.5 224.8L457.7 137.3L458.9 228.8L460.0 250.2L461.2 262.3L462.4 270.2L463.6 275.4L464.8 278.8L466.0 280.7L467.2 281.1L468.3 280.1L469.5 277.5L470.7 273.1L471.9 266.3L473.1 255.7L474.3 237.8L475.5 193.4L476.6 210.9L477.8 242.0L479.0 256.2L480.2 264.2L481.4 268.3L482.6 269.5L483.8 267.9L484.9 263.0L486.1 253.7L487.3 236.2L488.5 189.1L489.7 213.0L490.9 242.0L492.1 254.5L493.2 260.0L494.4 260.6L495.6 256.2L496.8 245.3L498.0 220.3L499.2 167.5L500.4 230.6L501.5 247.6L502.7 253.7L503.9 252.4L505.1 243.0L506.3 217.7L507.5 177.0L508.7 231.4L509.8 245.7L511.0 248.0L512.2 239.6L513.4 211.4L514.6 191.9L515.8 233.2L517.0 243.2L518.1 239.1L519.3 215.2L520.5 182.7L521.7 230.5L522.9 239.2L524.1 229.6L525.3 174.1L526.5 216.6L527.6 234.8L528.8 228.7L530.0 176.1L531.2 215.7L532.4 231.9L533.6 218.7L534.8 161.4L535.9 224.6L537.1 225.2L538.3 166.2L539.5 216.4L540.7 224.4L541.9 174.7L543.1 214.2L544.2 220.5L545.4 116.5L546.6 217.8L547.8 209.7L549.0 188.6L550.2 218.4L551.4 156.0L552.5 214.0L553.7 196.7L554.9 203.8L556.1 205.8L557.3 192.9L558.5 207.3L559.7 187.7L560.8 205.1L562.0 191.4L563.2 198.4L564.4 199.7L565.6 179.2L566.8 205.4L568.0 127.7L569.1 200.6L570.3 194.1L571.5 155.0L572.7 200.5L573.9 190.4L575.1 126.7L576.3 193.2L577.4 196.9L578.6 174.6L579.8 134.0L581.0 184.1L582.2 193.8L583.4 192.0L584.6 182.5L585.7 165.0L586.9 133.2L588.1 66.6L589.3 126.6L590.5 135.4L591.7 129.6L592.9 96.6L594.0 115.5L595.2 153.9L596.4 172.3L597.6 181.3L598.8 180.7L600.0 163.2L601.2 112.4L602.4 173.6L603.5 175.3L604.7 81.4L605.9 173.4L607.1 159.9L608.3 162.1L609.5 163.4L610.7 163.6L611.8 145.1L613.0 171.1L614.2 139.2L615.4 145.1L616.6 167.2L617.8 165.5L619.0 153.1L620.1 134.1L621.3 115.0L622.5 112.9L623.7 129.7L624.9 147.8L626.1 159.2L627.3 158.6L628.4 124.5L629.6 143.6L630.8 155.3L632.0 112.1L633.2 153.7L634.4 138.9L635.6 120.4L636.7 151.0L637.9 151.5L639.1 145.2L640.3 141.1L641.5 143.5L642.7 148.1L643.9 144.7L645.0 96.7L646.2 139.3L647.4 131.2L648.6 139.3L649.8 43.9L651.0 132.5L652.2 140.5L653.3 140.6L654.5 138.4L655.7 126.0L656.9 66.3L658.1 136.4L659.3 81.0L660.5 134.8L661.6 128.5L662.8 114.4L664.0 114.6L665.2 127.4L666.4 128.7L667.6 52.7L668.8 127.7L669.9 121.4L671.1 103.4L672.3 105.5L673.5 122.2L674.7 117.6L675.9 107.2L677.1 85.1L678.3 109.8L679.4 103.4L680.6 38.9L681.8 119.0L683.0 68.3L684.2 78.5" fill="none" stroke="#2ca02c" stroke-width="2.7" stroke-linejoin="round" stroke-linecap="butt"/>
<path d="M191.0 351.0C202.5 351.0 241.8 351.0 260.0 351.0C278.2 351.0 289.7 351.2 300.0 350.8C310.3 350.4 314.7 349.8 322.0 348.8C329.3 347.8 336.7 346.8 344.0 345.0C351.3 343.2 360.0 340.2 366.0 337.8C372.0 335.4 375.6 333.2 380.0 330.3C384.4 327.4 388.3 324.0 392.3 320.5C396.3 317.0 400.2 313.3 404.0 309.5C407.8 305.7 411.1 301.8 415.0 297.8C418.9 293.8 423.5 288.6 427.3 285.5C431.1 282.4 434.2 281.4 438.0 279.3C441.8 277.2 445.1 276.2 450.0 272.8C454.9 269.4 461.8 263.6 467.6 259.0C473.4 254.4 479.6 249.6 485.0 245.4C490.4 241.2 491.7 240.2 500.0 233.8C508.3 227.4 505.4 229.5 535.0 207.2C564.5 184.9 649.8 120.7 677.3 100.0C704.8 79.3 696.2 85.8 700.0 82.9" fill="none" stroke="#000" stroke-width="2.35" stroke-dasharray="8.6 3.7"/>
<path d="M92.0 94.4C118.3 94.4 210.3 94.4 250.0 94.4C289.7 94.4 309.8 94.5 330.0 94.3C350.2 94.1 359.1 94.1 371.0 93.5C382.9 92.9 393.7 92.0 401.5 90.9C409.3 89.9 414.1 88.3 417.9 87.2C421.6 86.1 422.3 85.4 424.0 84.4C425.7 83.4 426.8 82.4 428.1 81.0C429.4 79.6 430.6 77.9 432.0 76.2C433.4 74.5 434.7 72.7 436.3 70.8C437.9 68.9 439.8 66.7 441.5 64.8C443.2 62.9 444.0 61.8 446.5 59.5C449.0 57.2 452.8 53.9 456.7 50.8C460.6 47.7 466.7 43.5 470.0 41.0C473.3 38.5 471.9 39.6 476.6 36.1C481.4 32.6 491.2 25.2 498.5 19.7C505.8 14.2 515.8 6.8 520.4 3.3C525.0 -0.1 525.1 -0.3 526.0 -1.0L90.4 -1Z" fill="#1f77b4"/>
</g>
<text x="205.8" y="55.7" font-family="Liberation Serif, serif" font-size="32.5" fill="#fff" text-anchor="start" textLength="80.6" lengthAdjust="spacingAndGlyphs">CAST</text>
<g clip-path="url(#ax)">
<rect x="121.0" y="143.8" width="101.7" height="32.4" fill="#d8eed8"/>
<rect x="121.0" y="203.5" width="101.7" height="35.0" fill="#d8eed8"/>
<text x="122.4" y="156.7" font-family="Liberation Serif, serif" font-size="16" font-weight="bold" fill="#2ca02c" textLength="88.4" lengthAdjust="spacingAndGlyphs" >BabyIAXO</text>
<text x="211.6" y="161.9" font-family="Liberation Serif, serif" font-size="15.8" font-weight="normal" fill="#2ca02c" textLength="9.6" lengthAdjust="spacingAndGlyphs" stroke="#2ca02c" stroke-width="0.3">0</text>
<rect x="121.0" y="158.2" width="90.0" height="16.5" fill="#d8eed8"/>
<text x="122.4" y="169.7" font-family="Liberation Serif, serif" font-size="16" font-weight="bold" fill="#2ca02c" textLength="88.4" lengthAdjust="spacingAndGlyphs" >BabyIAXO</text>
<text x="211.6" y="174.4" font-family="Liberation Serif, serif" font-size="15.8" font-weight="normal" fill="#2ca02c" textLength="9.6" lengthAdjust="spacingAndGlyphs" stroke="#2ca02c" stroke-width="0.3">1</text>
<text x="122.4" y="215.9" font-family="Liberation Serif, serif" font-size="16" font-weight="bold" fill="#2ca02c" textLength="88.4" lengthAdjust="spacingAndGlyphs" >BabyIAXO</text>
<text x="211.6" y="220.7" font-family="Liberation Serif, serif" font-size="15.8" font-weight="normal" fill="#2ca02c" textLength="9.6" lengthAdjust="spacingAndGlyphs" stroke="#2ca02c" stroke-width="0.3">3</text>
<rect x="121.0" y="220.1" width="90.0" height="16.5" fill="#d8eed8"/>
<text x="122.4" y="231.6" font-family="Liberation Serif, serif" font-size="16" font-weight="bold" fill="#2ca02c" textLength="88.4" lengthAdjust="spacingAndGlyphs" >BabyIAXO</text>
<text x="211.6" y="236.6" font-family="Liberation Serif, serif" font-size="15.8" font-weight="normal" fill="#2ca02c" textLength="9.6" lengthAdjust="spacingAndGlyphs" stroke="#2ca02c" stroke-width="0.3">2</text>
<rect x="190.0" y="298.0" width="58.5" height="17.8" fill="#d8eed8"/>
<rect x="120.8" y="316.4" width="62.2" height="19.6" fill="#d8eed8"/>
<rect x="190.0" y="325.0" width="62.4" height="24.3" fill="#d8eed8"/>
<rect x="120.8" y="347.2" width="63.8" height="5.4" fill="#d8eed8"/>
<rect x="120.8" y="352.4" width="63.8" height="23.6" fill="#ffffff"/>
<text x="191.4" y="311.0" font-family="Liberation Serif, serif" font-size="16.2" font-weight="bold" fill="#2ca02c" textLength="47.6" lengthAdjust="spacingAndGlyphs" >IAXO</text>
<text x="239.3" y="313.1" font-family="Liberation Serif, serif" font-size="14.5" font-weight="bold" fill="#2ca02c"  >r</text>
<text x="123.0" y="329.0" font-family="Liberation Serif, serif" font-size="16.2" font-weight="bold" fill="#2ca02c" textLength="46.3" lengthAdjust="spacingAndGlyphs" >IAXO</text>
<text x="171.0" y="334.3" font-family="Liberation Serif, serif" font-size="15.0" font-weight="bold" fill="#2ca02c"  >b</text>
<text x="191.4" y="343.5" font-family="Liberation Serif, serif" font-size="16.2" font-weight="bold" fill="#2ca02c" textLength="47.6" lengthAdjust="spacingAndGlyphs" >IAXO</text>
<text x="239.3" y="347.4" font-family="Liberation Serif, serif" font-size="14.5" font-weight="bold" fill="#2ca02c"  >r</text>
<text x="123.0" y="365.7" font-family="Liberation Serif, serif" font-size="16.2" font-weight="bold" fill="#2ca02c" textLength="46.3" lengthAdjust="spacingAndGlyphs" >IAXO</text>
<text x="171.0" y="373.2" font-family="Liberation Serif, serif" font-size="15.0" font-weight="bold" fill="#2ca02c"  >b</text>
<path d="M240.1 332.4h10.8M245.5 327.2v10.4M170.9 354.3h11M176.4 349v10.6" stroke="#2ca02c" stroke-width="2.6" fill="none"/>
</g>
<g clip-path="url(#ax)">
<line x1="82.03" y1="471.55" x2="700" y2="5.69" stroke="#ffd700" stroke-width="2.75" stroke-dasharray="8.86 3.83"/>
</g>
<g transform="translate(566.3,362.3) rotate(-36.8)"><text x="0" y="0" font-family="Liberation Serif, serif" font-size="23.8" textLength="61.5" lengthAdjust="spacingAndGlyphs">DFSZ</text></g>
<g transform="translate(539.4,306.5) rotate(-36.8)"><text x="0" y="0" font-family="Liberation Serif, serif" font-size="23.8" textLength="32.4" lengthAdjust="spacingAndGlyphs">M1</text></g>
<g transform="translate(515.8,280.2) rotate(-36.8)"><path d="M0.2 0.2L5.2 -16.6M-4.5 -13.8C-5.3 -16.2 -3.6 -17.9 0 -17.6C5 -17 9.5 -17.6 13.8 -19.2" fill="none" stroke="#000" stroke-width="1.9" stroke-linecap="round"/><text x="7.2" y="5.0" font-family="Liberation Serif, serif" font-size="16.4">2</text><text x="13.4" y="-14.0" font-family="Liberation Serif, serif" font-size="16.6" textLength="23.0" lengthAdjust="spacingAndGlyphs">(<tspan font-style="italic">u</tspan>)</text></g>
<rect x="443.4" y="403.0" width="237.2" height="51.4" rx="3.4" ry="3.4" fill="#4c4c4c" fill-opacity="0.5"/>
<rect x="439.6" y="399.2" width="237.0" height="51.2" rx="3.4" ry="3.4" fill="#ffffff" stroke="#cccccc" stroke-width="1"/>
<path d="M445.7 411.3h32" stroke="#000" stroke-width="2.4" stroke-dasharray="8.6 3.07" fill="none"/>
<path d="M445.7 435h32" stroke="#ffd700" stroke-width="2.4" stroke-dasharray="8.6 3.07" fill="none"/>
<text x="490.6" y="417.3" font-family="Liberation Serif, serif" font-size="17.4" textLength="156" lengthAdjust="spacingAndGlyphs">Primakoff decoherence</text>
<text x="490.6" y="440.7" font-family="Liberation Serif, serif" font-size="17.4" textLength="178.4" lengthAdjust="spacingAndGlyphs">Nucleophilic model (n=3)</text>
<text x="343.6" y="512.9" font-family="Liberation Serif, serif" font-style="italic" font-size="32.5" textLength="24.2" lengthAdjust="spacingAndGlyphs">m</text>
<text x="368.0" y="517.2" font-family="Liberation Serif, serif" font-style="italic" font-size="21.8">a</text>
<text x="394.4" y="513.0" font-family="Liberation Serif, serif" font-size="30.4" textLength="32.8" lengthAdjust="spacingAndGlyphs">eV</text>
<path d="M395.4 491.5H390.5V521M425.3 491.5H430.2V521" stroke="#000" stroke-width="1.4" fill="none"/>
<path d="M3.8 328.2H31.7M3.2 233.2H31.6" stroke="#000" stroke-width="1.25" fill="none"/>
<path d="M3.6 213.6V217.6H32.4V213.6M3.6 135.8V131.8H32.4V135.8" stroke="#000" stroke-width="1.4" fill="none"/>
<text transform="rotate(-90)" x="-325.6" y="25.3" font-family="Liberation Serif, serif" font-size="29.5" font-style="italic" textLength="16.2" lengthAdjust="spacingAndGlyphs">g</text>
<text transform="rotate(-90)" x="-305.4" y="29.6" font-family="Liberation Serif, serif" font-size="20.6" font-style="italic" >a</text>
<text transform="rotate(-90)" x="-295.6" y="29.0" font-family="Liberation Serif, serif" font-size="18.6" font-style="italic" >γ</text>
<text transform="rotate(-90)" x="-282.6" y="25.3" font-family="Liberation Serif, serif" font-size="29.5" font-style="italic" textLength="16.2" lengthAdjust="spacingAndGlyphs">g</text>
<text transform="rotate(-90)" x="-265.6" y="32.4" font-family="Liberation Serif, serif" font-size="20.6" font-style="italic" >a</text>
<text transform="rotate(-90)" x="-255.6" y="32.4" font-family="Liberation Serif, serif" font-size="21.4" font-style="italic" textLength="17.0" lengthAdjust="spacingAndGlyphs">N</text>
<text transform="rotate(-90)" x="-264.0" y="11.9" font-family="Liberation Serif, serif" font-size="14.9"  textLength="21.6" lengthAdjust="spacingAndGlyphs">eff</text>
<text transform="rotate(-90)" x="-213.6" y="25.3" font-family="Liberation Serif, serif" font-size="30.4"  textLength="18.5" lengthAdjust="spacingAndGlyphs">G</text>
<text transform="rotate(-90)" x="-195.4" y="25.3" font-family="Liberation Serif, serif" font-size="30.4"  textLength="11.6" lengthAdjust="spacingAndGlyphs">e</text>
<text transform="rotate(-90)" x="-183.6" y="25.3" font-family="Liberation Serif, serif" font-size="30.4"  >V</text>
<text transform="rotate(-90)" x="-159.2" y="12.8" font-family="Liberation Serif, serif" font-size="15.4"  textLength="11.8" lengthAdjust="spacingAndGlyphs">−</text>
<text transform="rotate(-90)" x="-146.4" y="12.8" font-family="Liberation Serif, serif" font-size="15.4"  textLength="8.4" lengthAdjust="spacingAndGlyphs">1</text>
<rect x="92.4" y="1.8" width="591.7" height="456.5" fill="none" stroke="#000" stroke-width="1.5"/>
<path d="M92.40 458.3v5.4M155.01 458.3v3.1M191.64 458.3v3.1M217.63 458.3v3.1M237.79 458.3v3.1M254.26 458.3v3.1M268.18 458.3v3.1M280.24 458.3v3.1M290.88 458.3v3.1M300.40 458.3v5.4M363.01 458.3v3.1M399.64 458.3v3.1M425.63 458.3v3.1M445.79 458.3v3.1M462.26 458.3v3.1M476.18 458.3v3.1M488.24 458.3v3.1M498.88 458.3v3.1M508.40 458.3v5.4M571.01 458.3v3.1M607.64 458.3v3.1M633.63 458.3v3.1M653.79 458.3v3.1M670.26 458.3v3.1M684.18 458.3v3.1M92.4 458.19h-3.1M92.4 448.40h-3.1M92.4 440.80h-3.1M92.4 434.59h-3.1M92.4 429.34h-3.1M92.4 424.80h-3.1M92.4 420.79h-3.1M92.4 417.20h-5.4M92.4 393.60h-3.1M92.4 379.79h-3.1M92.4 370.00h-3.1M92.4 362.40h-3.1M92.4 356.19h-3.1M92.4 350.94h-3.1M92.4 346.40h-3.1M92.4 342.39h-3.1M92.4 338.80h-5.4M92.4 315.20h-3.1M92.4 301.39h-3.1M92.4 291.60h-3.1M92.4 284.00h-3.1M92.4 277.79h-3.1M92.4 272.54h-3.1M92.4 268.00h-3.1M92.4 263.99h-3.1M92.4 260.40h-5.4M92.4 236.80h-3.1M92.4 222.99h-3.1M92.4 213.20h-3.1M92.4 205.60h-3.1M92.4 199.39h-3.1M92.4 194.14h-3.1M92.4 189.60h-3.1M92.4 185.59h-3.1M92.4 182.00h-5.4M92.4 158.40h-3.1M92.4 144.59h-3.1M92.4 134.80h-3.1M92.4 127.20h-3.1M92.4 120.99h-3.1M92.4 115.74h-3.1M92.4 111.20h-3.1M92.4 107.19h-3.1M92.4 103.60h-5.4M92.4 80.00h-3.1M92.4 66.19h-3.1M92.4 56.40h-3.1M92.4 48.80h-3.1M92.4 42.59h-3.1M92.4 37.34h-3.1M92.4 32.80h-3.1M92.4 28.79h-3.1M92.4 25.20h-5.4" stroke="#000" stroke-width="1.1" fill="none"/>
<text x="74.5" y="482.4" font-family="Liberation Serif, serif" font-size="18.9" textLength="17.6" lengthAdjust="spacingAndGlyphs">10</text>
<path d="M93.7 472.5h8.2" stroke="#000" stroke-width="1.0" fill="none"/>
<text x="103.4" y="476.3" font-family="Liberation Serif, serif" font-size="13.0" textLength="7.4" lengthAdjust="spacingAndGlyphs">3</text>
<text x="282.5" y="482.4" font-family="Liberation Serif, serif" font-size="18.9" textLength="17.6" lengthAdjust="spacingAndGlyphs">10</text>
<path d="M301.7 472.5h8.2" stroke="#000" stroke-width="1.0" fill="none"/>
<text x="311.4" y="476.3" font-family="Liberation Serif, serif" font-size="13.0" textLength="7.4" lengthAdjust="spacingAndGlyphs">2</text>
<text x="490.5" y="482.4" font-family="Liberation Serif, serif" font-size="18.9" textLength="17.6" lengthAdjust="spacingAndGlyphs">10</text>
<path d="M509.7 472.5h8.2" stroke="#000" stroke-width="1.0" fill="none"/>
<text x="519.4" y="476.3" font-family="Liberation Serif, serif" font-size="13.0" textLength="7.4" lengthAdjust="spacingAndGlyphs">1</text>
<text x="38.6" y="424.1" font-family="Liberation Serif, serif" font-size="18.9" textLength="17.6" lengthAdjust="spacingAndGlyphs">10</text>
<path d="M57.8 414.2h8.2" stroke="#000" stroke-width="1.0" fill="none"/>
<text x="67.5" y="418.0" font-family="Liberation Serif, serif" font-size="13.0" textLength="14.0" lengthAdjust="spacingAndGlyphs">20</text>
<text x="38.6" y="345.7" font-family="Liberation Serif, serif" font-size="18.9" textLength="17.6" lengthAdjust="spacingAndGlyphs">10</text>
<path d="M57.8 335.8h8.2" stroke="#000" stroke-width="1.0" fill="none"/>
<text x="67.5" y="339.6" font-family="Liberation Serif, serif" font-size="13.0" textLength="14.0" lengthAdjust="spacingAndGlyphs">19</text>
<text x="38.6" y="267.3" font-family="Liberation Serif, serif" font-size="18.9" textLength="17.6" lengthAdjust="spacingAndGlyphs">10</text>
<path d="M57.8 257.4h8.2" stroke="#000" stroke-width="1.0" fill="none"/>
<text x="67.5" y="261.2" font-family="Liberation Serif, serif" font-size="13.0" textLength="14.0" lengthAdjust="spacingAndGlyphs">18</text>
<text x="38.6" y="188.9" font-family="Liberation Serif, serif" font-size="18.9" textLength="17.6" lengthAdjust="spacingAndGlyphs">10</text>
<path d="M57.8 179.0h8.2" stroke="#000" stroke-width="1.0" fill="none"/>
<text x="67.5" y="182.8" font-family="Liberation Serif, serif" font-size="13.0" textLength="14.0" lengthAdjust="spacingAndGlyphs">17</text>
<text x="38.6" y="110.5" font-family="Liberation Serif, serif" font-size="18.9" textLength="17.6" lengthAdjust="spacingAndGlyphs">10</text>
<path d="M57.8 100.6h8.2" stroke="#000" stroke-width="1.0" fill="none"/>
<text x="67.5" y="104.4" font-family="Liberation Serif, serif" font-size="13.0" textLength="14.0" lengthAdjust="spacingAndGlyphs">16</text>
<text x="38.6" y="32.1" font-family="Liberation Serif, serif" font-size="18.9" textLength="17.6" lengthAdjust="spacingAndGlyphs">10</text>
<path d="M57.8 22.2h8.2" stroke="#000" stroke-width="1.0" fill="none"/>
<text x="67.5" y="26.0" font-family="Liberation Serif, serif" font-size="13.0" textLength="14.0" lengthAdjust="spacingAndGlyphs">15</text>
</svg>
</body></html>
